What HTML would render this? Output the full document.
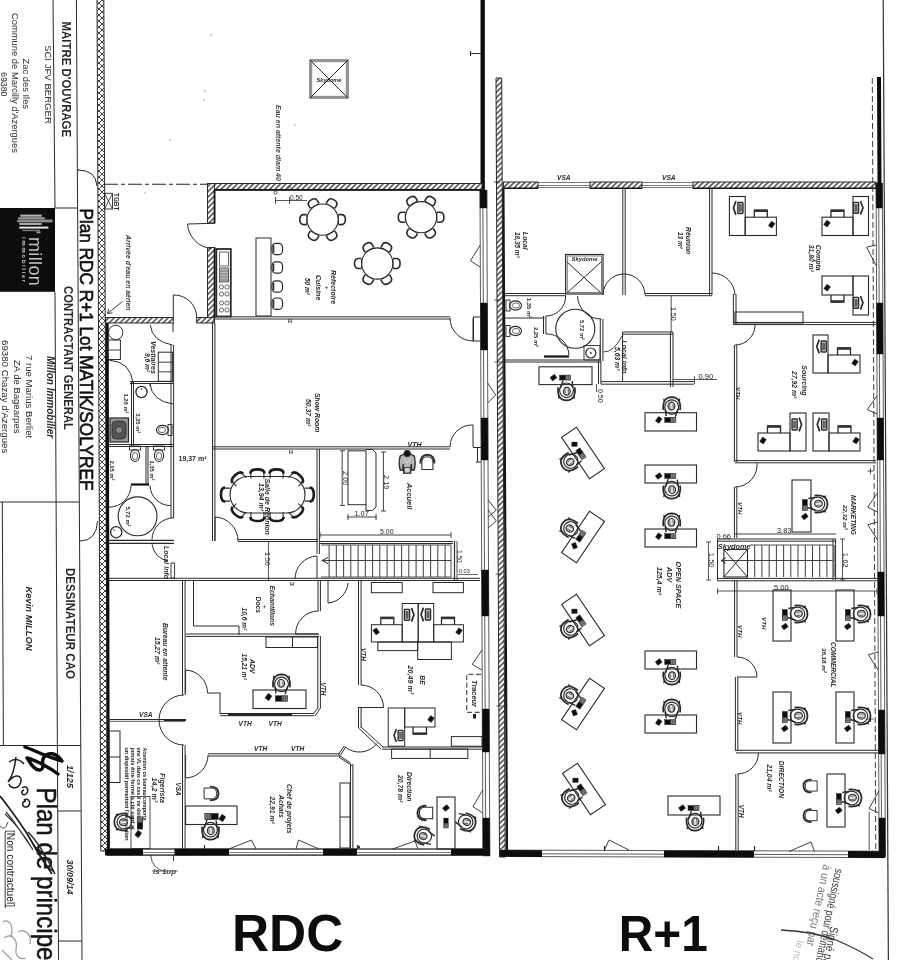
<!DOCTYPE html>
<html lang="fr"><head><meta charset="utf-8"><title>Plan RDC R+1 Lot MATIK/SOLYREF</title>
<style>
html,body{margin:0;padding:0;background:#fff;}
body{width:905px;height:960px;overflow:hidden;}
svg{display:block;font-family:"Liberation Sans",sans-serif;}
</style></head><body>
<svg width="905" height="960" viewBox="0 0 905 960">
<defs>
<pattern id="hat" width="5.4" height="5.4" patternUnits="userSpaceOnUse"><rect width="5.4" height="5.4" fill="#fff"/><path d="M-1 6.4L6.4 -1M-1 1L1 -1M4.4 6.4L6.4 4.4" stroke="#2a2a2a" stroke-width="1.35"/></pattern>
<pattern id="xhat" width="6" height="6" patternUnits="userSpaceOnUse"><rect width="6" height="6" fill="#fff"/><path d="M0 0L6 6M6 0L0 6" stroke="#444" stroke-width="1"/></pattern>
<filter id="soft" x="-2%" y="-2%" width="104%" height="104%"><feGaussianBlur stdDeviation="0.45"/></filter>
</defs>
<rect width="905" height="960" fill="#fefefe"/>
<g filter="url(#soft)">
<line x1="53" y1="0" x2="55" y2="208" stroke="#2a2a2a" stroke-width="1" stroke-linecap="butt"/>
<line x1="55" y1="292" x2="58.5" y2="960" stroke="#2a2a2a" stroke-width="1" stroke-linecap="butt"/>
<line x1="76.4" y1="0" x2="82" y2="960" stroke="#2a2a2a" stroke-width="1" stroke-linecap="butt"/>
<path d="M78 170 Q96 170 97 186" fill="none" stroke="#2a2a2a" stroke-width="1" />
<path d="M80 541 Q96.5 541 97.6 521" fill="none" stroke="#2a2a2a" stroke-width="1" />
<line x1="2.3" y1="502" x2="3.4" y2="745" stroke="#2a2a2a" stroke-width="1" stroke-linecap="butt"/>
<line x1="77.5" y1="170" x2="79" y2="170" stroke="#2a2a2a" stroke-width="1" stroke-linecap="butt"/>
<line x1="0" y1="502" x2="79" y2="502" stroke="#2a2a2a" stroke-width="1" stroke-linecap="butt"/>
<line x1="55" y1="208" x2="78" y2="208" stroke="#2a2a2a" stroke-width="1" stroke-linecap="butt"/>
<line x1="0" y1="745.5" x2="81" y2="745.5" stroke="#2a2a2a" stroke-width="1" stroke-linecap="butt"/>
<line x1="58" y1="811" x2="81" y2="811" stroke="#2a2a2a" stroke-width="1" stroke-linecap="butt"/>
<line x1="58" y1="941" x2="82" y2="941" stroke="#2a2a2a" stroke-width="1" stroke-linecap="butt"/>
<rect x="-1" y="208" width="56" height="83.8" fill="#0a0a0a" stroke="#2a2a2a" stroke-width="0" rx="0" />
<rect x="20.3" y="214.6" width="21.4" height="2.1" fill="#b5b5b5" stroke="none" stroke-width="0" rx="0" />
<rect x="18.2" y="217.2" width="26.6" height="2.1" fill="#9a9a9a" stroke="none" stroke-width="0" rx="0" />
<rect x="17.2" y="219.5" width="35.4" height="2.9" fill="#8c8c8c" stroke="none" stroke-width="0" rx="0" />
<rect x="19.3" y="222.9" width="22.4" height="2.1" fill="#a8a8a8" stroke="none" stroke-width="0" rx="0" />
<rect x="19.3" y="226.6" width="29.1" height="2.0" fill="#e6e6e6" stroke="none" stroke-width="0" rx="0" />
<rect x="22.4" y="229.7" width="17.6" height="1.5" fill="#777" stroke="none" stroke-width="0" rx="0" />
<rect x="36.5" y="231.4" width="4.1" height="1.9" fill="#999" stroke="none" stroke-width="0" rx="0" />
<text transform="translate(28.7 237) rotate(90)" font-size="18" font-weight="normal" font-style="normal" text-anchor="start" fill="#c4c4c4" letter-spacing="0.35" >millon</text>
<text transform="translate(22.3 237) rotate(90)" font-size="6.2" font-weight="bold" font-style="normal" text-anchor="start" fill="#c9c9c9" letter-spacing="1.55" >immobilier</text>
<text transform="translate(61.6 21.6) rotate(90)" font-size="12.3" font-weight="bold" font-style="normal" text-anchor="start" fill="#2a2a2a" textLength="115.5" lengthAdjust="spacingAndGlyphs">MAITRE D'OUVRAGE</text>
<text transform="translate(45.4 45) rotate(90)" font-size="9.6" font-weight="normal" font-style="normal" text-anchor="start" fill="#2a2a2a" >SCI JFV BERGER</text>
<text transform="translate(23.3 58.5) rotate(90)" font-size="9.4" font-weight="normal" font-style="normal" text-anchor="start" fill="#2a2a2a" >Zac des Iles</text>
<text transform="translate(11.8 13) rotate(90)" font-size="9.4" font-weight="normal" font-style="normal" text-anchor="start" fill="#2a2a2a" >Commune de Marcilly d'Azergues</text>
<text transform="translate(1.2 72) rotate(90)" font-size="8.8" font-weight="normal" font-style="normal" text-anchor="start" fill="#2a2a2a" >69380</text>
<text transform="translate(80.2 208.4) rotate(90)" font-size="18.2" font-weight="normal" font-style="normal" text-anchor="start" fill="#111" stroke="#111" stroke-width="0.6" textLength="282" lengthAdjust="spacingAndGlyphs">Plan RDC R+1 Lot MATIK/SOLYREF</text>
<text transform="translate(64.2 286) rotate(90)" font-size="12.3" font-weight="bold" font-style="normal" text-anchor="start" fill="#2a2a2a" textLength="144" lengthAdjust="spacingAndGlyphs">CONTRACTANT GENERAL</text>
<text transform="translate(47.2 356) rotate(90)" font-size="10" font-weight="bold" font-style="italic" text-anchor="start" fill="#2a2a2a" >Millon Immobilier</text>
<text transform="translate(25.5 355) rotate(90)" font-size="9.6" font-weight="normal" font-style="normal" text-anchor="start" fill="#2a2a2a" >7 rue Marius Berliet</text>
<text transform="translate(14 360) rotate(90)" font-size="9.5" font-weight="normal" font-style="normal" text-anchor="start" fill="#2a2a2a" >ZA de Bagearpes</text>
<text transform="translate(2.2 340) rotate(90)" font-size="9.7" font-weight="normal" font-style="normal" text-anchor="start" fill="#2a2a2a" >69380 Chazay d'Azergues</text>
<text transform="translate(65.5 568) rotate(90)" font-size="12.3" font-weight="bold" font-style="normal" text-anchor="start" fill="#2a2a2a" textLength="111" lengthAdjust="spacingAndGlyphs">DESSINATEUR CAO</text>
<text transform="translate(25.6 586.5) rotate(90)" font-size="9.4" font-weight="bold" font-style="italic" text-anchor="start" fill="#2a2a2a" >Kevin MILLON</text>
<text transform="translate(66.5 765) rotate(90)" font-size="9.2" font-weight="bold" font-style="italic" text-anchor="start" fill="#2a2a2a" >1/125</text>
<text transform="translate(67 859.5) rotate(90)" font-size="9" font-weight="bold" font-style="italic" text-anchor="start" fill="#2a2a2a" >30/09/14</text>
<text transform="translate(36.5 787.5) rotate(90)" font-size="27" font-weight="normal" font-style="normal" text-anchor="start" fill="#151515" stroke="#151515" stroke-width="0.5" textLength="173" lengthAdjust="spacingAndGlyphs">Plan de principe</text>
<text transform="translate(6.5 830) rotate(90)" font-size="10.2" font-weight="normal" font-style="normal" text-anchor="start" fill="#222" >[Non contractuel]</text>
<line x1="5.2" y1="832" x2="5.2" y2="908" stroke="#2a2a2a" stroke-width="0.9" stroke-linecap="butt"/>
<path d="M25 747 C34 750 44 756 62 761 C56 752 48 752 44 757 C40 763 46 768 40 770 C34 771 30 762 27 758 C36 760 50 768 58 774" fill="none" stroke="#0c0c0c" stroke-width="3.4" stroke-linecap="round" stroke-linejoin="round"/>
<path d="M9 762 C14 758 20 759 24 764 M16 757 C15 766 13 776 8 782 C16 772 24 776 20 784 C17 790 10 788 9 784" fill="none" stroke="#1a1a1a" stroke-width="1.5" />
<path d="M22 788 C26 784 30 790 26 794 C22 797 20 791 24 790 M24 800 C29 797 32 804 27 807 C22 808 21 802 26 801" fill="none" stroke="#1a1a1a" stroke-width="1.5" />
<path d="M0 796 C8 806 18 820 26 832 C32 842 40 856 52 874" fill="none" stroke="#1a1a1a" stroke-width="1.7" />
<path d="M6 812 C10 816 16 824 33 850 C25 836 14 822 5 814" fill="none" stroke="#333" stroke-width="1.1" />
<path d="M0 826 C4 830 6 828 8 822" fill="none" stroke="#444" stroke-width="1" />
<path d="M28 832 C36 840 44 852 54 872 C48 868 40 858 34 846 C44 852 50 862 55 874" fill="none" stroke="#222" stroke-width="1.4" />
<path d="M3 922 C9 918 14 926 11 936 M4 938 C12 932 18 940 16 950 C15 956 20 960 26 958 M18 932 C24 928 32 934 30 944 M2 950 L12 960" fill="none" stroke="#999" stroke-width="1.2" />
<path d="M97 -2L103.8 -2L107.64 851L100.84 851Z" fill="url(#xhat)" stroke="#2a2a2a" stroke-width="1" />
<line x1="482.7" y1="-2" x2="482.7" y2="190" stroke="#0e0e0e" stroke-width="4.3" stroke-linecap="butt"/>
<line x1="883.2" y1="-2" x2="888.4" y2="962" stroke="#333" stroke-width="1.2" stroke-linecap="butt"/>
<line x1="470" y1="53.5" x2="481" y2="53.5" stroke="#2a2a2a" stroke-width="1" stroke-linecap="butt"/>
<line x1="470.5" y1="51" x2="470.5" y2="56" stroke="#2a2a2a" stroke-width="1" stroke-linecap="butt"/>
<rect x="310" y="60" width="38" height="38" fill="none" stroke="#2a2a2a" stroke-width="1" rx="0" />
<rect x="311.8" y="61.8" width="34.39999999999998" height="34.400000000000006" fill="none" stroke="#2a2a2a" stroke-width="0.6" rx="0" />
<line x1="310" y1="60" x2="348" y2="98" stroke="#2a2a2a" stroke-width="1" stroke-linecap="butt"/>
<line x1="348" y1="60" x2="310" y2="98" stroke="#2a2a2a" stroke-width="1" stroke-linecap="butt"/>
<text transform="translate(329 81.5) rotate(0)" font-size="5.6" font-weight="bold" font-style="italic" text-anchor="middle" fill="#2a2a2a" >Skydome</text>
<text transform="translate(275.5 105) rotate(90)" font-size="7" font-weight="bold" font-style="italic" text-anchor="start" fill="#444" >Eau en attente diam 40</text>
<line x1="104" y1="184.2" x2="208" y2="184.2" stroke="#2a2a2a" stroke-width="1.1" stroke-linecap="butt" stroke-dasharray="14 3 4 3"/>
<rect x="104.5" y="193.3" width="8.0" height="15.699999999999989" fill="none" stroke="#2a2a2a" stroke-width="0.9" rx="0" />
<line x1="104.5" y1="193.3" x2="112.5" y2="209" stroke="#2a2a2a" stroke-width="0.8" stroke-linecap="butt"/>
<line x1="112.5" y1="193.3" x2="104.5" y2="209" stroke="#2a2a2a" stroke-width="0.8" stroke-linecap="butt"/>
<text transform="translate(113.6 193) rotate(90)" font-size="6.4" font-weight="bold" font-style="normal" text-anchor="start" fill="#2a2a2a" >TGBT</text>
<text transform="translate(125.6 235) rotate(90)" font-size="6.9" font-weight="bold" font-style="italic" text-anchor="start" fill="#3a3a3a" >Arrivée d'eau en aérien</text>
<path d="M122.5 301.5 L107.5 313.5 M107.5 313.5 L112.5 312.8 M107.5 313.5 L108.8 308.8" fill="none" stroke="#2a2a2a" stroke-width="0.9" />
<circle cx="211" cy="35" r="0.7" fill="#999" stroke="none" stroke-width="0"/>
<circle cx="205" cy="91" r="0.7" fill="#999" stroke="none" stroke-width="0"/>
<circle cx="204" cy="100" r="0.7" fill="#999" stroke="none" stroke-width="0"/>
<circle cx="295" cy="125" r="0.7" fill="#999" stroke="none" stroke-width="0"/>
<circle cx="145" cy="193" r="0.7" fill="#999" stroke="none" stroke-width="0"/>
<circle cx="170" cy="140" r="0.7" fill="#999" stroke="none" stroke-width="0"/>
<rect x="207.5" y="183.5" width="274.5" height="6.5" fill="url(#hat)" stroke="#2a2a2a" stroke-width="1" rx="0" />
<line x1="214" y1="189.8" x2="481" y2="189.8" stroke="#151515" stroke-width="1.8" stroke-linecap="butt"/>
<rect x="207.5" y="183.5" width="7.0" height="39.5" fill="url(#hat)" stroke="#2a2a2a" stroke-width="1" rx="0" />
<rect x="207.5" y="247.5" width="7.0" height="72.5" fill="url(#hat)" stroke="#2a2a2a" stroke-width="1" rx="0" />
<line x1="214.6" y1="189" x2="214.6" y2="223.5" stroke="#151515" stroke-width="1.8" stroke-linecap="butt"/>
<line x1="214.6" y1="247.5" x2="214.6" y2="318" stroke="#151515" stroke-width="1.8" stroke-linecap="butt"/>
<rect x="105.5" y="317.5" width="67.80000000000001" height="5.5" fill="url(#hat)" stroke="#2a2a2a" stroke-width="1" rx="0" />
<rect x="196.7" y="317.5" width="17.80000000000001" height="5.5" fill="url(#hat)" stroke="#2a2a2a" stroke-width="1" rx="0" />
<line x1="107.2" y1="323" x2="108.4" y2="853" stroke="#111" stroke-width="3" stroke-linecap="butt"/>
<line x1="480.0" y1="190" x2="483.0" y2="856" stroke="#333" stroke-width="0.8" stroke-linecap="butt"/>
<line x1="482.79999999999995" y1="190" x2="485.8" y2="856" stroke="#333" stroke-width="0.8" stroke-linecap="butt"/>
<line x1="486.79999999999995" y1="190" x2="489.8" y2="856" stroke="#333" stroke-width="0.8" stroke-linecap="butt"/>
<path d="M480.0 190L486.8 190L486.88 208L480.08 208Z" fill="#0e0e0e" stroke="#0e0e0e" stroke-width="0.4" />
<path d="M480.51 303L487.31 303L487.52 350L480.72 350Z" fill="#0e0e0e" stroke="#0e0e0e" stroke-width="0.4" />
<path d="M481.03 418L487.83 418L488.01 460L481.21 460Z" fill="#0e0e0e" stroke="#0e0e0e" stroke-width="0.4" />
<path d="M481.71 570L488.51 570L488.72 616L481.92 616Z" fill="#0e0e0e" stroke="#0e0e0e" stroke-width="0.4" />
<path d="M482.34 709L489.14 709L489.33 752L482.53 752Z" fill="#0e0e0e" stroke="#0e0e0e" stroke-width="0.4" />
<path d="M482.83 818L489.63 818L489.8 856L483.0 856Z" fill="#0e0e0e" stroke="#0e0e0e" stroke-width="0.4" />
<path d="M480.25 245 L470.45 260.8 L480.25 267" fill="none" stroke="#2a2a2a" stroke-width="0.9" />
<path d="M482.07 650 L472.27 664.4 L482.07 670" fill="none" stroke="#2a2a2a" stroke-width="0.9" />
<path d="M482.7 790 L472.9 806.6 L482.7 813" fill="none" stroke="#2a2a2a" stroke-width="0.9" />
<path d="M487.67 383 L495.67 395.0 L487.67 403" fill="none" stroke="#2a2a2a" stroke-width="0.9" />
<path d="M488.19 500 L496.19 510.2 L488.19 517" fill="none" stroke="#2a2a2a" stroke-width="0.9" />
<path d="M488.24 510 L496.24 520.8 L488.24 528" fill="none" stroke="#2a2a2a" stroke-width="0.9" />
<line x1="107" y1="849.5" x2="486" y2="849.5" stroke="#444" stroke-width="0.7" stroke-linecap="butt"/>
<line x1="107" y1="852.5" x2="486" y2="852.5" stroke="#444" stroke-width="0.7" stroke-linecap="butt"/>
<line x1="107" y1="854.5" x2="486" y2="854.5" stroke="#444" stroke-width="0.7" stroke-linecap="butt"/>
<rect x="105" y="848.7" width="38" height="6.7999999999999545" fill="#0e0e0e" stroke="#2a2a2a" stroke-width="0" rx="0" />
<rect x="174.5" y="848.7" width="54.5" height="6.7999999999999545" fill="#0e0e0e" stroke="#2a2a2a" stroke-width="0" rx="0" />
<rect x="323" y="848.7" width="34" height="6.7999999999999545" fill="#0e0e0e" stroke="#2a2a2a" stroke-width="0" rx="0" />
<rect x="451" y="848.7" width="38.5" height="6.7999999999999545" fill="#0e0e0e" stroke="#2a2a2a" stroke-width="0" rx="0" />
<line x1="107" y1="848.7" x2="487" y2="848.7" stroke="#2a2a2a" stroke-width="0.8" stroke-linecap="butt"/>
<line x1="107" y1="855.5" x2="487" y2="855.5" stroke="#2a2a2a" stroke-width="0.8" stroke-linecap="butt"/>
<path d="M229 849 L251.5 840 L256 849" fill="none" stroke="#2a2a2a" stroke-width="0.9" />
<path d="M296 849 L298.5 840 L319 849" fill="none" stroke="#2a2a2a" stroke-width="0.9" />
<path d="M392.5 849 L415 841 L418 849" fill="none" stroke="#2a2a2a" stroke-width="0.9" />
<line x1="204.5" y1="845" x2="204.5" y2="849" stroke="#2a2a2a" stroke-width="1.2" stroke-linecap="butt"/>
<line x1="357.5" y1="845" x2="357.5" y2="849" stroke="#2a2a2a" stroke-width="1.2" stroke-linecap="butt"/>
<text transform="translate(153 873.5) rotate(0)" font-size="8" font-weight="bold" font-style="italic" text-anchor="start" fill="#444" >ls 1up</text>
<path d="M150.5 855 Q152 869 166 872" fill="none" stroke="#2a2a2a" stroke-width="0.8" />
<line x1="152" y1="871" x2="178" y2="871" stroke="#555" stroke-width="0.8" stroke-linecap="butt"/>
<line x1="173.5" y1="855" x2="173.5" y2="861" stroke="#2a2a2a" stroke-width="0.9" stroke-linecap="butt"/>
<path d="M214 223.3L187.5 224A26.5 26.5 0 0 0 211 248.5" fill="none" stroke="#2a2a2a" stroke-width="1" />
<path d="M173.3 317.5L173.3 295A22.5 22.5 0 0 1 196.7 317.5" fill="none" stroke="#2a2a2a" stroke-width="1" />
<rect x="216.3" y="249" width="14.5" height="67.5" fill="none" stroke="#2a2a2a" stroke-width="1.8" rx="0" />
<rect x="219.5" y="252" width="9.0" height="14" fill="none" stroke="#2a2a2a" stroke-width="0.7" rx="0" />
<rect x="219.5" y="268" width="9.0" height="14" fill="#bbb" stroke="#2a2a2a" stroke-width="0.7" rx="0" />
<line x1="220" y1="271" x2="228" y2="271" stroke="#2a2a2a" stroke-width="0.5" stroke-linecap="butt"/>
<line x1="220" y1="274" x2="228" y2="274" stroke="#2a2a2a" stroke-width="0.5" stroke-linecap="butt"/>
<line x1="220" y1="277" x2="228" y2="277" stroke="#2a2a2a" stroke-width="0.5" stroke-linecap="butt"/>
<line x1="220" y1="280" x2="228" y2="280" stroke="#2a2a2a" stroke-width="0.5" stroke-linecap="butt"/>
<circle cx="221.5" cy="287" r="2.1" fill="none" stroke="#2a2a2a" stroke-width="0.7"/>
<circle cx="227" cy="287" r="2.1" fill="none" stroke="#2a2a2a" stroke-width="0.7"/>
<circle cx="221.5" cy="294" r="2.1" fill="none" stroke="#2a2a2a" stroke-width="0.7"/>
<circle cx="227" cy="294" r="2.1" fill="none" stroke="#2a2a2a" stroke-width="0.7"/>
<circle cx="221.5" cy="303" r="2.1" fill="none" stroke="#2a2a2a" stroke-width="0.7"/>
<circle cx="227" cy="303" r="2.1" fill="none" stroke="#2a2a2a" stroke-width="0.7"/>
<circle cx="221.5" cy="310" r="2.1" fill="none" stroke="#2a2a2a" stroke-width="0.7"/>
<circle cx="227" cy="310" r="2.1" fill="none" stroke="#2a2a2a" stroke-width="0.7"/>
<rect x="256" y="238" width="15" height="78" fill="none" stroke="#2a2a2a" stroke-width="1" rx="0" />
<rect x="272" y="243.3" width="10.5" height="11.4" fill="none" stroke="#2a2a2a" stroke-width="1.2" rx="4" />
<line x1="273.6" y1="245.3" x2="273.6" y2="252.70000000000002" stroke="#2a2a2a" stroke-width="1.4" stroke-linecap="butt"/>
<rect x="272" y="261.8" width="10.5" height="11.4" fill="none" stroke="#2a2a2a" stroke-width="1.2" rx="4" />
<line x1="273.6" y1="263.8" x2="273.6" y2="271.2" stroke="#2a2a2a" stroke-width="1.4" stroke-linecap="butt"/>
<rect x="272" y="280.8" width="10.5" height="11.4" fill="none" stroke="#2a2a2a" stroke-width="1.2" rx="4" />
<line x1="273.6" y1="282.8" x2="273.6" y2="290.2" stroke="#2a2a2a" stroke-width="1.4" stroke-linecap="butt"/>
<rect x="272" y="298" width="10.5" height="11.4" fill="none" stroke="#2a2a2a" stroke-width="1.2" rx="4" />
<line x1="273.6" y1="300" x2="273.6" y2="307.4" stroke="#2a2a2a" stroke-width="1.4" stroke-linecap="butt"/>
<circle cx="322.6" cy="219.6" r="15.6" fill="none" stroke="#2a2a2a" stroke-width="1.1"/>
<g transform="translate(341.4 219.6) rotate(-90)">
<path d="M-5 -3 L-5 0 Q-5 4 0 4 Q5 4 5 0 L5 -3" fill="none" stroke="#2a2a2a" stroke-width="1.6" />
<path d="M-4.5 -3 L4.5 -3" fill="none" stroke="#2a2a2a" stroke-width="0.9" />
</g>
<g transform="translate(332.0 235.9) rotate(-30)">
<path d="M-5 -3 L-5 0 Q-5 4 0 4 Q5 4 5 0 L5 -3" fill="none" stroke="#2a2a2a" stroke-width="1.6" />
<path d="M-4.5 -3 L4.5 -3" fill="none" stroke="#2a2a2a" stroke-width="0.9" />
</g>
<g transform="translate(313.2 235.9) rotate(30)">
<path d="M-5 -3 L-5 0 Q-5 4 0 4 Q5 4 5 0 L5 -3" fill="none" stroke="#2a2a2a" stroke-width="1.6" />
<path d="M-4.5 -3 L4.5 -3" fill="none" stroke="#2a2a2a" stroke-width="0.9" />
</g>
<g transform="translate(303.8 219.6) rotate(90)">
<path d="M-5 -3 L-5 0 Q-5 4 0 4 Q5 4 5 0 L5 -3" fill="none" stroke="#2a2a2a" stroke-width="1.6" />
<path d="M-4.5 -3 L4.5 -3" fill="none" stroke="#2a2a2a" stroke-width="0.9" />
</g>
<g transform="translate(313.2 203.3) rotate(150)">
<path d="M-5 -3 L-5 0 Q-5 4 0 4 Q5 4 5 0 L5 -3" fill="none" stroke="#2a2a2a" stroke-width="1.6" />
<path d="M-4.5 -3 L4.5 -3" fill="none" stroke="#2a2a2a" stroke-width="0.9" />
</g>
<g transform="translate(332.0 203.3) rotate(210)">
<path d="M-5 -3 L-5 0 Q-5 4 0 4 Q5 4 5 0 L5 -3" fill="none" stroke="#2a2a2a" stroke-width="1.6" />
<path d="M-4.5 -3 L4.5 -3" fill="none" stroke="#2a2a2a" stroke-width="0.9" />
</g>
<circle cx="421.1" cy="217.2" r="15.6" fill="none" stroke="#2a2a2a" stroke-width="1.1"/>
<g transform="translate(439.9 217.2) rotate(-90)">
<path d="M-5 -3 L-5 0 Q-5 4 0 4 Q5 4 5 0 L5 -3" fill="none" stroke="#2a2a2a" stroke-width="1.6" />
<path d="M-4.5 -3 L4.5 -3" fill="none" stroke="#2a2a2a" stroke-width="0.9" />
</g>
<g transform="translate(430.5 233.5) rotate(-30)">
<path d="M-5 -3 L-5 0 Q-5 4 0 4 Q5 4 5 0 L5 -3" fill="none" stroke="#2a2a2a" stroke-width="1.6" />
<path d="M-4.5 -3 L4.5 -3" fill="none" stroke="#2a2a2a" stroke-width="0.9" />
</g>
<g transform="translate(411.7 233.5) rotate(30)">
<path d="M-5 -3 L-5 0 Q-5 4 0 4 Q5 4 5 0 L5 -3" fill="none" stroke="#2a2a2a" stroke-width="1.6" />
<path d="M-4.5 -3 L4.5 -3" fill="none" stroke="#2a2a2a" stroke-width="0.9" />
</g>
<g transform="translate(402.3 217.2) rotate(90)">
<path d="M-5 -3 L-5 0 Q-5 4 0 4 Q5 4 5 0 L5 -3" fill="none" stroke="#2a2a2a" stroke-width="1.6" />
<path d="M-4.5 -3 L4.5 -3" fill="none" stroke="#2a2a2a" stroke-width="0.9" />
</g>
<g transform="translate(411.7 200.9) rotate(150)">
<path d="M-5 -3 L-5 0 Q-5 4 0 4 Q5 4 5 0 L5 -3" fill="none" stroke="#2a2a2a" stroke-width="1.6" />
<path d="M-4.5 -3 L4.5 -3" fill="none" stroke="#2a2a2a" stroke-width="0.9" />
</g>
<g transform="translate(430.5 200.9) rotate(210)">
<path d="M-5 -3 L-5 0 Q-5 4 0 4 Q5 4 5 0 L5 -3" fill="none" stroke="#2a2a2a" stroke-width="1.6" />
<path d="M-4.5 -3 L4.5 -3" fill="none" stroke="#2a2a2a" stroke-width="0.9" />
</g>
<circle cx="377.3" cy="263.5" r="15.6" fill="none" stroke="#2a2a2a" stroke-width="1.1"/>
<g transform="translate(396.1 263.5) rotate(-90)">
<path d="M-5 -3 L-5 0 Q-5 4 0 4 Q5 4 5 0 L5 -3" fill="none" stroke="#2a2a2a" stroke-width="1.6" />
<path d="M-4.5 -3 L4.5 -3" fill="none" stroke="#2a2a2a" stroke-width="0.9" />
</g>
<g transform="translate(386.7 279.8) rotate(-30)">
<path d="M-5 -3 L-5 0 Q-5 4 0 4 Q5 4 5 0 L5 -3" fill="none" stroke="#2a2a2a" stroke-width="1.6" />
<path d="M-4.5 -3 L4.5 -3" fill="none" stroke="#2a2a2a" stroke-width="0.9" />
</g>
<g transform="translate(367.9 279.8) rotate(30)">
<path d="M-5 -3 L-5 0 Q-5 4 0 4 Q5 4 5 0 L5 -3" fill="none" stroke="#2a2a2a" stroke-width="1.6" />
<path d="M-4.5 -3 L4.5 -3" fill="none" stroke="#2a2a2a" stroke-width="0.9" />
</g>
<g transform="translate(358.5 263.5) rotate(90)">
<path d="M-5 -3 L-5 0 Q-5 4 0 4 Q5 4 5 0 L5 -3" fill="none" stroke="#2a2a2a" stroke-width="1.6" />
<path d="M-4.5 -3 L4.5 -3" fill="none" stroke="#2a2a2a" stroke-width="0.9" />
</g>
<g transform="translate(367.9 247.2) rotate(150)">
<path d="M-5 -3 L-5 0 Q-5 4 0 4 Q5 4 5 0 L5 -3" fill="none" stroke="#2a2a2a" stroke-width="1.6" />
<path d="M-4.5 -3 L4.5 -3" fill="none" stroke="#2a2a2a" stroke-width="0.9" />
</g>
<g transform="translate(386.7 247.2) rotate(210)">
<path d="M-5 -3 L-5 0 Q-5 4 0 4 Q5 4 5 0 L5 -3" fill="none" stroke="#2a2a2a" stroke-width="1.6" />
<path d="M-4.5 -3 L4.5 -3" fill="none" stroke="#2a2a2a" stroke-width="0.9" />
</g>
<line x1="275" y1="200.5" x2="307" y2="200.5" stroke="#2a2a2a" stroke-width="0.8" stroke-linecap="butt"/>
<line x1="275.5" y1="197" x2="275.5" y2="204" stroke="#2a2a2a" stroke-width="0.8" stroke-linecap="butt"/>
<line x1="289.5" y1="197" x2="289.5" y2="204" stroke="#2a2a2a" stroke-width="0.8" stroke-linecap="butt"/>
<text transform="translate(290 199.5) rotate(0)" font-size="6.5" font-weight="normal" font-style="normal" text-anchor="start" fill="#262626" >0.50</text>
<circle cx="275.5" cy="192.5" r="1.6" fill="none" stroke="#2a2a2a" stroke-width="0.8"/>
<text transform="translate(288 188.5) rotate(0)" font-size="5" font-weight="normal" font-style="normal" text-anchor="start" fill="#444" >A</text>
<text transform="translate(330.6 270) rotate(90)" font-size="7" font-weight="bold" font-style="italic" text-anchor="start" fill="#2a2a2a" >Réfectoire</text>
<text transform="translate(324.6 286) rotate(90)" font-size="6" font-weight="bold" font-style="normal" text-anchor="start" fill="#2a2a2a" >+</text>
<text transform="translate(316 275) rotate(90)" font-size="7" font-weight="bold" font-style="italic" text-anchor="start" fill="#2a2a2a" >Cuisine</text>
<text transform="translate(305 278) rotate(90)" font-size="6.5" font-weight="bold" font-style="italic" text-anchor="start" fill="#2a2a2a" >50 m²</text>
<line x1="213" y1="316.8" x2="450" y2="316.8" stroke="#2a2a2a" stroke-width="1" stroke-linecap="butt"/>
<line x1="213" y1="319.0" x2="450" y2="319.0" stroke="#2a2a2a" stroke-width="1" stroke-linecap="butt"/>
<path d="M473 318L473 341A23.0 23.0 0 0 1 450 318" fill="none" stroke="#2a2a2a" stroke-width="1" />
<line x1="473" y1="317" x2="481" y2="317" stroke="#2a2a2a" stroke-width="1" stroke-linecap="butt"/>
<line x1="473.5" y1="317" x2="473.5" y2="341" stroke="#2a2a2a" stroke-width="1" stroke-linecap="butt"/>
<line x1="473" y1="341" x2="481" y2="341" stroke="#2a2a2a" stroke-width="1" stroke-linecap="butt"/>
<line x1="212.5" y1="323" x2="212.5" y2="541" stroke="#2a2a2a" stroke-width="1" stroke-linecap="butt"/>
<line x1="214.9" y1="323" x2="214.9" y2="541" stroke="#2a2a2a" stroke-width="1" stroke-linecap="butt"/>
<line x1="213" y1="446.8" x2="450" y2="446.8" stroke="#2a2a2a" stroke-width="1" stroke-linecap="butt"/>
<line x1="213" y1="449.0" x2="450" y2="449.0" stroke="#2a2a2a" stroke-width="1" stroke-linecap="butt"/>
<path d="M473 447L473 425A22.0 22.0 0 0 0 450 447" fill="none" stroke="#2a2a2a" stroke-width="1" />
<line x1="473" y1="447.5" x2="481" y2="447.5" stroke="#2a2a2a" stroke-width="1" stroke-linecap="butt"/>
<line x1="477.5" y1="447" x2="477.5" y2="462" stroke="#2a2a2a" stroke-width="1" stroke-linecap="butt"/>
<line x1="476" y1="462" x2="481" y2="462" stroke="#2a2a2a" stroke-width="1" stroke-linecap="butt"/>
<text transform="translate(290 322.5) rotate(0)" font-size="5.5" font-weight="bold" font-style="normal" text-anchor="middle" fill="#2a2a2a" >H</text>
<text transform="translate(291 453.5) rotate(0)" font-size="5.5" font-weight="bold" font-style="normal" text-anchor="middle" fill="#2a2a2a" >H</text>
<text transform="translate(292 585.5) rotate(0)" font-size="5.5" font-weight="bold" font-style="normal" text-anchor="middle" fill="#2a2a2a" >H</text>
<text transform="translate(314.5 393) rotate(90)" font-size="6.8" font-weight="bold" font-style="italic" text-anchor="start" fill="#2a2a2a" >Show Room</text>
<text transform="translate(305.5 399) rotate(90)" font-size="6.8" font-weight="bold" font-style="italic" text-anchor="start" fill="#2a2a2a" >50,37 m²</text>
<line x1="173" y1="323" x2="173" y2="332" stroke="#2a2a2a" stroke-width="1" stroke-linecap="butt"/>
<path d="M150.3 325 Q152 341.5 172.6 345" fill="none" stroke="#2a2a2a" stroke-width="1" />
<line x1="171" y1="345" x2="171" y2="518" stroke="#2a2a2a" stroke-width="1" stroke-linecap="butt"/>
<line x1="173.6" y1="345" x2="173.6" y2="518" stroke="#2a2a2a" stroke-width="1" stroke-linecap="butt"/>
<circle cx="115.7" cy="332.5" r="7.2" fill="none" stroke="#2a2a2a" stroke-width="1"/>
<rect x="107.8" y="340" width="12.600000000000009" height="19.5" fill="none" stroke="#2a2a2a" stroke-width="1" rx="0" />
<line x1="107.8" y1="350" x2="120.4" y2="350" stroke="#2a2a2a" stroke-width="0.9" stroke-linecap="butt"/>
<rect x="158.3" y="352.2" width="14.099999999999994" height="29.100000000000023" fill="none" stroke="#2a2a2a" stroke-width="1" rx="0" />
<line x1="158.3" y1="362.2" x2="172.4" y2="362.2" stroke="#2a2a2a" stroke-width="0.9" stroke-linecap="butt"/>
<line x1="158.3" y1="371.8" x2="172.4" y2="371.8" stroke="#2a2a2a" stroke-width="0.9" stroke-linecap="butt"/>
<text transform="translate(150.6 341) rotate(90)" font-size="7" font-weight="bold" font-style="italic" text-anchor="start" fill="#2a2a2a" >Vestiaires</text>
<text transform="translate(144.6 353) rotate(90)" font-size="6.6" font-weight="bold" font-style="italic" text-anchor="start" fill="#2a2a2a" >9,6 m²</text>
<path d="M109 360 Q131 362 133 383" fill="none" stroke="#2a2a2a" stroke-width="1" />
<line x1="130" y1="381.5" x2="173" y2="381.5" stroke="#2a2a2a" stroke-width="1" stroke-linecap="butt"/>
<line x1="130" y1="383.5" x2="173" y2="383.5" stroke="#2a2a2a" stroke-width="1" stroke-linecap="butt"/>
<line x1="131.5" y1="382" x2="131.5" y2="446" stroke="#2a2a2a" stroke-width="1" stroke-linecap="butt"/>
<line x1="133.5" y1="382" x2="133.5" y2="446" stroke="#2a2a2a" stroke-width="1" stroke-linecap="butt"/>
<circle cx="141.5" cy="392" r="5.6" fill="none" stroke="#2a2a2a" stroke-width="1.3"/>
<circle cx="141.5" cy="389" r="0.8" fill="#333" stroke="#2a2a2a" stroke-width="0"/>
<path d="M150 384 Q152 401 173 404" fill="none" stroke="#2a2a2a" stroke-width="1" />
<line x1="150" y1="383" x2="150" y2="386" stroke="#2a2a2a" stroke-width="1" stroke-linecap="butt"/>
<text transform="translate(124.2 393.5) rotate(90)" font-size="5.8" font-weight="bold" font-style="normal" text-anchor="start" fill="#2a2a2a" >1,20 m²</text>
<text transform="translate(135.8 413.2) rotate(90)" font-size="5.8" font-weight="bold" font-style="normal" text-anchor="start" fill="#2a2a2a" >3,35 m²</text>
<rect x="110" y="418" width="18.5" height="24" fill="#9a9a9a" stroke="#2a2a2a" stroke-width="1.2" rx="0" />
<rect x="112" y="421" width="14" height="18" fill="#555" stroke="#2a2a2a" stroke-width="0.8" rx="4" />
<circle cx="119" cy="430" r="3.5" fill="#888" stroke="#2a2a2a" stroke-width="0.8"/>
<g transform="translate(164 430) rotate(180)">
<rect x="-8" y="-5.5" width="4" height="11" fill="none" stroke="#2a2a2a" stroke-width="0.9" rx="0" />
<ellipse cx="1.5" cy="0" rx="6" ry="4.6" fill="none" stroke="#2a2a2a" stroke-width="1.1"/>
<ellipse cx="2" cy="0" rx="3.6" ry="2.6" fill="none" stroke="#2a2a2a" stroke-width="0.7"/>
</g>
<line x1="108" y1="444.5" x2="173" y2="444.5" stroke="#2a2a2a" stroke-width="1" stroke-linecap="butt"/>
<line x1="108" y1="446.5" x2="173" y2="446.5" stroke="#2a2a2a" stroke-width="1" stroke-linecap="butt"/>
<g transform="translate(135 454) rotate(90)">
<rect x="-8" y="-5.5" width="4" height="11" fill="none" stroke="#2a2a2a" stroke-width="0.9" rx="0" />
<ellipse cx="1.5" cy="0" rx="6" ry="4.6" fill="none" stroke="#2a2a2a" stroke-width="1.1"/>
<ellipse cx="2" cy="0" rx="3.6" ry="2.6" fill="none" stroke="#2a2a2a" stroke-width="0.7"/>
</g>
<g transform="translate(159 454) rotate(90)">
<rect x="-8" y="-5.5" width="4" height="11" fill="none" stroke="#2a2a2a" stroke-width="0.9" rx="0" />
<ellipse cx="1.5" cy="0" rx="6" ry="4.6" fill="none" stroke="#2a2a2a" stroke-width="1.1"/>
<ellipse cx="2" cy="0" rx="3.6" ry="2.6" fill="none" stroke="#2a2a2a" stroke-width="0.7"/>
</g>
<line x1="146" y1="446" x2="146" y2="485" stroke="#2a2a2a" stroke-width="1" stroke-linecap="butt"/>
<line x1="148" y1="446" x2="148" y2="485" stroke="#2a2a2a" stroke-width="1" stroke-linecap="butt"/>
<line x1="131" y1="484.5" x2="149" y2="484.5" stroke="#111" stroke-width="2.2" stroke-linecap="butt"/>
<text transform="translate(109.6 460.4) rotate(90)" font-size="5.8" font-weight="bold" font-style="normal" text-anchor="start" fill="#2a2a2a" >2,15 m²</text>
<text transform="translate(150 460.4) rotate(90)" font-size="5.8" font-weight="bold" font-style="normal" text-anchor="start" fill="#2a2a2a" >1,35 m²</text>
<path d="M131 485.3 A22 22 0 0 1 109 507.2" fill="none" stroke="#2a2a2a" stroke-width="1" />
<path d="M149.9 485.3 A21 21 0 0 0 171 505.7" fill="none" stroke="#2a2a2a" stroke-width="1" />
<path d="M174 517.8 A22 22 0 0 0 152 539.7" fill="none" stroke="#2a2a2a" stroke-width="1" />
<circle cx="137.6" cy="516.3" r="19.4" fill="none" stroke="#2a2a2a" stroke-width="1.1"/>
<text transform="translate(125.8 506.5) rotate(90)" font-size="5.8" font-weight="bold" font-style="normal" text-anchor="start" fill="#2a2a2a" >5,72 m²</text>
<circle cx="116.2" cy="532.2" r="5.6" fill="none" stroke="#2a2a2a" stroke-width="1.3"/>
<circle cx="114" cy="530" r="0.8" fill="#333" stroke="#2a2a2a" stroke-width="0"/>
<line x1="108" y1="540.4" x2="174" y2="540.4" stroke="#2a2a2a" stroke-width="1.2" stroke-linecap="butt"/>
<line x1="108" y1="543.4" x2="174" y2="543.4" stroke="#2a2a2a" stroke-width="1.2" stroke-linecap="butt"/>
<path d="M152.1 544.3 A19 19 0 0 0 168 561" fill="none" stroke="#2a2a2a" stroke-width="1" />
<rect x="171" y="563" width="3.5999999999999943" height="15" fill="none" stroke="#2a2a2a" stroke-width="0.9" rx="0" />
<text transform="translate(163.8 546) rotate(90)" font-size="7" font-weight="bold" font-style="italic" text-anchor="start" fill="#2a2a2a" >Local info</text>
<text transform="translate(178.5 461) rotate(0)" font-size="7" font-weight="bold" font-style="normal" text-anchor="start" fill="#2a2a2a" >19,37 m²</text>
<rect x="230" y="476.5" width="75" height="36.5" fill="none" stroke="#2a2a2a" stroke-width="1.2" rx="18.2" />
<g transform="translate(257.4 474) rotate(0)">
<path d="M-6.5 4.5 L-6.5 -1.5 M6.5 4.5 L6.5 -1.5" fill="none" stroke="#2a2a2a" stroke-width="1.1" />
<path d="M-7 -0.5 Q-7 -4.6 0 -4.6 Q7 -4.6 7 -0.5" fill="none" stroke="#1a1a1a" stroke-width="2.6" />
</g>
<g transform="translate(257.4 516.4) rotate(180)">
<path d="M-6.5 4.5 L-6.5 -1.5 M6.5 4.5 L6.5 -1.5" fill="none" stroke="#2a2a2a" stroke-width="1.1" />
<path d="M-7 -0.5 Q-7 -4.6 0 -4.6 Q7 -4.6 7 -0.5" fill="none" stroke="#1a1a1a" stroke-width="2.6" />
</g>
<g transform="translate(276.6 474) rotate(0)">
<path d="M-6.5 4.5 L-6.5 -1.5 M6.5 4.5 L6.5 -1.5" fill="none" stroke="#2a2a2a" stroke-width="1.1" />
<path d="M-7 -0.5 Q-7 -4.6 0 -4.6 Q7 -4.6 7 -0.5" fill="none" stroke="#1a1a1a" stroke-width="2.6" />
</g>
<g transform="translate(276.6 516.4) rotate(180)">
<path d="M-6.5 4.5 L-6.5 -1.5 M6.5 4.5 L6.5 -1.5" fill="none" stroke="#2a2a2a" stroke-width="1.1" />
<path d="M-7 -0.5 Q-7 -4.6 0 -4.6 Q7 -4.6 7 -0.5" fill="none" stroke="#1a1a1a" stroke-width="2.6" />
</g>
<g transform="translate(238.2 478.6) rotate(-42)">
<path d="M-6.5 4.5 L-6.5 -1.5 M6.5 4.5 L6.5 -1.5" fill="none" stroke="#2a2a2a" stroke-width="1.1" />
<path d="M-7 -0.5 Q-7 -4.6 0 -4.6 Q7 -4.6 7 -0.5" fill="none" stroke="#1a1a1a" stroke-width="2.6" />
</g>
<g transform="translate(296.6 478.6) rotate(42)">
<path d="M-6.5 4.5 L-6.5 -1.5 M6.5 4.5 L6.5 -1.5" fill="none" stroke="#2a2a2a" stroke-width="1.1" />
<path d="M-7 -0.5 Q-7 -4.6 0 -4.6 Q7 -4.6 7 -0.5" fill="none" stroke="#1a1a1a" stroke-width="2.6" />
</g>
<g transform="translate(238.2 511.2) rotate(-138)">
<path d="M-6.5 4.5 L-6.5 -1.5 M6.5 4.5 L6.5 -1.5" fill="none" stroke="#2a2a2a" stroke-width="1.1" />
<path d="M-7 -0.5 Q-7 -4.6 0 -4.6 Q7 -4.6 7 -0.5" fill="none" stroke="#1a1a1a" stroke-width="2.6" />
</g>
<g transform="translate(296.6 511.2) rotate(138)">
<path d="M-6.5 4.5 L-6.5 -1.5 M6.5 4.5 L6.5 -1.5" fill="none" stroke="#2a2a2a" stroke-width="1.1" />
<path d="M-7 -0.5 Q-7 -4.6 0 -4.6 Q7 -4.6 7 -0.5" fill="none" stroke="#1a1a1a" stroke-width="2.6" />
</g>
<g transform="translate(225.6 494.6) rotate(-90)">
<path d="M-6.5 4.5 L-6.5 -1.5 M6.5 4.5 L6.5 -1.5" fill="none" stroke="#2a2a2a" stroke-width="1.1" />
<path d="M-7 -0.5 Q-7 -4.6 0 -4.6 Q7 -4.6 7 -0.5" fill="none" stroke="#1a1a1a" stroke-width="2.6" />
</g>
<g transform="translate(309.2 494.6) rotate(90)">
<path d="M-6.5 4.5 L-6.5 -1.5 M6.5 4.5 L6.5 -1.5" fill="none" stroke="#2a2a2a" stroke-width="1.1" />
<path d="M-7 -0.5 Q-7 -4.6 0 -4.6 Q7 -4.6 7 -0.5" fill="none" stroke="#1a1a1a" stroke-width="2.6" />
</g>
<text transform="translate(265.2 478.5) rotate(90)" font-size="7" font-weight="bold" font-style="italic" text-anchor="start" fill="#2a2a2a" >Salle de Réunion</text>
<text transform="translate(258.6 483) rotate(90)" font-size="7" font-weight="bold" font-style="italic" text-anchor="start" fill="#2a2a2a" >13,94 m²</text>
<path d="M215 541L215 517A24.0 24.0 0 0 1 238 541" fill="none" stroke="#2a2a2a" stroke-width="1" />
<line x1="238" y1="539.5" x2="318" y2="539.5" stroke="#2a2a2a" stroke-width="1" stroke-linecap="butt"/>
<line x1="238" y1="541.5" x2="318" y2="541.5" stroke="#2a2a2a" stroke-width="1" stroke-linecap="butt"/>
<line x1="317" y1="449" x2="317" y2="554" stroke="#2a2a2a" stroke-width="1" stroke-linecap="butt"/>
<line x1="319.4" y1="449" x2="319.4" y2="554" stroke="#2a2a2a" stroke-width="1" stroke-linecap="butt"/>
<line x1="268.5" y1="541" x2="268.5" y2="580" stroke="#2a2a2a" stroke-width="0.8" stroke-linecap="butt"/>
<text transform="translate(265 552) rotate(90)" font-size="7" font-weight="normal" font-style="normal" text-anchor="start" fill="#262626" >1.50</text>
<rect x="348" y="450.8" width="18" height="53.89999999999998" fill="none" stroke="#2a2a2a" stroke-width="1" rx="0" />
<path d="M366 449.5 L372.5 449.5 L376 453 L376 507 L372.5 510.4 L366 510.4 L366 504.7" fill="none" stroke="#2a2a2a" stroke-width="1" />
<line x1="342.2" y1="450.8" x2="342.2" y2="505.4" stroke="#2a2a2a" stroke-width="0.9" stroke-linecap="butt"/>
<path d="M340 450.8 L345 450.8 M340 505.4 L345 505.4" fill="none" stroke="#2a2a2a" stroke-width="0.9" />
<text transform="translate(343 471) rotate(90)" font-size="7.4" font-weight="normal" font-style="normal" text-anchor="start" fill="#262626" >2.00</text>
<line x1="383.4" y1="452" x2="383.4" y2="511" stroke="#2a2a2a" stroke-width="0.9" stroke-linecap="butt"/>
<path d="M381 452 L386 452 M381 511 L386 511" fill="none" stroke="#2a2a2a" stroke-width="0.9" />
<text transform="translate(384.2 475) rotate(90)" font-size="7.4" font-weight="normal" font-style="normal" text-anchor="start" fill="#262626" >2.19</text>
<line x1="347" y1="517" x2="377" y2="517" stroke="#2a2a2a" stroke-width="0.9" stroke-linecap="butt"/>
<path d="M348 514 L348 520 M376 514 L376 520" fill="none" stroke="#2a2a2a" stroke-width="0.9" />
<text transform="translate(354.4 516) rotate(0)" font-size="7.4" font-weight="normal" font-style="normal" text-anchor="start" fill="#262626" >1.07</text>
<text transform="translate(407.6 447) rotate(0)" font-size="7" font-weight="bold" font-style="italic" text-anchor="start" fill="#2a2a2a" >VTH</text>
<g transform="translate(407.2 461)">
<path d="M-7 -5 Q-9 2 -7 9 L-4.5 9 L-4 3 L-3.5 12 L3.5 12 L4 3 L4.5 9 L7 9 Q9 2 7 -5 Q0 -10 -7 -5 Z" fill="#b5b5b5" stroke="#2a2a2a" stroke-width="1.3" />
<circle cx="0" cy="-7.5" r="3.2" fill="#161616" stroke="#2a2a2a" stroke-width="0.8"/>
<path d="M-3 -2 L0 2 L3 -2" fill="none" stroke="#ddd" stroke-width="1" />
<rect x="-3" y="6.5" width="6" height="5.5" fill="#cfcfcf" stroke="#2a2a2a" stroke-width="0.8" rx="0" />
</g>
<g transform="translate(427.4 464) rotate(0) scale(0.92)">
<path d="M-6 6 L-6 -2 Q-6 -8 0 -8 Q6 -8 6 -2 L6 6 Z" fill="none" stroke="#2a2a2a" stroke-width="1.1" />
<path d="M-7.6 -0.5 Q-7.8 -10 0 -10 Q7.8 -10 7.6 -0.5" fill="none" stroke="#2a2a2a" stroke-width="2.1" />
</g>
<text transform="translate(407 483) rotate(90)" font-size="7.4" font-weight="bold" font-style="italic" text-anchor="start" fill="#2a2a2a" >Accueil</text>
<line x1="320" y1="535" x2="451" y2="535" stroke="#2a2a2a" stroke-width="0.9" stroke-linecap="butt"/>
<path d="M320 532 L320 538 M451 532 L451 538" fill="none" stroke="#2a2a2a" stroke-width="0.8" />
<text transform="translate(380 533.5) rotate(0)" font-size="7" font-weight="normal" font-style="normal" text-anchor="start" fill="#262626" >5.00</text>
<line x1="320" y1="541.5" x2="453" y2="541.5" stroke="#2a2a2a" stroke-width="1" stroke-linecap="butt"/>
<line x1="320" y1="543.5" x2="453" y2="543.5" stroke="#2a2a2a" stroke-width="1" stroke-linecap="butt"/>
<line x1="321" y1="545" x2="451" y2="545" stroke="#2a2a2a" stroke-width="0.8" stroke-linecap="butt"/>
<line x1="321" y1="577" x2="451" y2="577" stroke="#2a2a2a" stroke-width="0.8" stroke-linecap="butt"/>
<line x1="451" y1="545" x2="451" y2="577" stroke="#2a2a2a" stroke-width="0.8" stroke-linecap="butt"/>
<line x1="329.1" y1="545" x2="329.1" y2="577" stroke="#2a2a2a" stroke-width="0.9" stroke-linecap="butt"/>
<line x1="336.3" y1="545" x2="336.3" y2="577" stroke="#2a2a2a" stroke-width="0.9" stroke-linecap="butt"/>
<line x1="343.6" y1="545" x2="343.6" y2="577" stroke="#2a2a2a" stroke-width="0.9" stroke-linecap="butt"/>
<line x1="350.8" y1="545" x2="350.8" y2="577" stroke="#2a2a2a" stroke-width="0.9" stroke-linecap="butt"/>
<line x1="358.1" y1="545" x2="358.1" y2="577" stroke="#2a2a2a" stroke-width="0.9" stroke-linecap="butt"/>
<line x1="365.3" y1="545" x2="365.3" y2="577" stroke="#2a2a2a" stroke-width="0.9" stroke-linecap="butt"/>
<line x1="372.6" y1="545" x2="372.6" y2="577" stroke="#2a2a2a" stroke-width="0.9" stroke-linecap="butt"/>
<line x1="379.8" y1="545" x2="379.8" y2="577" stroke="#2a2a2a" stroke-width="0.9" stroke-linecap="butt"/>
<line x1="387.1" y1="545" x2="387.1" y2="577" stroke="#2a2a2a" stroke-width="0.9" stroke-linecap="butt"/>
<line x1="394.3" y1="545" x2="394.3" y2="577" stroke="#2a2a2a" stroke-width="0.9" stroke-linecap="butt"/>
<line x1="401.6" y1="545" x2="401.6" y2="577" stroke="#2a2a2a" stroke-width="0.9" stroke-linecap="butt"/>
<line x1="408.8" y1="545" x2="408.8" y2="577" stroke="#2a2a2a" stroke-width="0.9" stroke-linecap="butt"/>
<line x1="416.1" y1="545" x2="416.1" y2="577" stroke="#2a2a2a" stroke-width="0.9" stroke-linecap="butt"/>
<line x1="423.3" y1="545" x2="423.3" y2="577" stroke="#2a2a2a" stroke-width="0.9" stroke-linecap="butt"/>
<line x1="430.6" y1="545" x2="430.6" y2="577" stroke="#2a2a2a" stroke-width="0.9" stroke-linecap="butt"/>
<line x1="437.8" y1="545" x2="437.8" y2="577" stroke="#2a2a2a" stroke-width="0.9" stroke-linecap="butt"/>
<line x1="445.1" y1="545" x2="445.1" y2="577" stroke="#2a2a2a" stroke-width="0.9" stroke-linecap="butt"/>
<path d="M322 560.5 L328 557.5 M322 560.5 L328 563.5" fill="none" stroke="#2a2a2a" stroke-width="1" />
<line x1="322" y1="560.5" x2="451" y2="560.5" stroke="#2a2a2a" stroke-width="0.9" stroke-linecap="butt"/>
<line x1="454.5" y1="541" x2="454.5" y2="580" stroke="#2a2a2a" stroke-width="1.2" stroke-linecap="butt"/>
<line x1="457" y1="541" x2="457" y2="580" stroke="#2a2a2a" stroke-width="0.8" stroke-linecap="butt"/>
<text transform="translate(457 550) rotate(90)" font-size="6.5" font-weight="normal" font-style="normal" text-anchor="start" fill="#262626" >1.50</text>
<text transform="translate(459 573) rotate(0)" font-size="5.5" font-weight="normal" font-style="normal" text-anchor="start" fill="#262626" >0.03</text>
<line x1="458" y1="574.5" x2="478" y2="574.5" stroke="#2a2a2a" stroke-width="0.7" stroke-linecap="butt"/>
<path d="M317 579L317 556A23.0 23.0 0 0 0 295 579" fill="none" stroke="#2a2a2a" stroke-width="1" />
<line x1="108" y1="578.3" x2="480" y2="578.3" stroke="#2a2a2a" stroke-width="1" stroke-linecap="butt"/>
<line x1="108" y1="580.5" x2="480" y2="580.5" stroke="#2a2a2a" stroke-width="1" stroke-linecap="butt"/>
<line x1="182.5" y1="581" x2="182.5" y2="695" stroke="#2a2a2a" stroke-width="1" stroke-linecap="butt"/>
<line x1="185.1" y1="581" x2="185.1" y2="695" stroke="#2a2a2a" stroke-width="1" stroke-linecap="butt"/>
<path d="M184 695 A25 25 0 0 0 184 745" fill="none" stroke="#2a2a2a" stroke-width="1" />
<line x1="107" y1="719.5" x2="185" y2="719.5" stroke="#2a2a2a" stroke-width="1.2" stroke-linecap="butt"/>
<line x1="107" y1="721.3" x2="185" y2="721.3" stroke="#2a2a2a" stroke-width="0.8" stroke-linecap="butt"/>
<line x1="164" y1="720" x2="186" y2="720" stroke="#222" stroke-width="2" stroke-linecap="butt"/>
<line x1="182.5" y1="745" x2="182.5" y2="849" stroke="#2a2a2a" stroke-width="1" stroke-linecap="butt"/>
<line x1="185.1" y1="745" x2="185.1" y2="849" stroke="#2a2a2a" stroke-width="1" stroke-linecap="butt"/>
<text transform="translate(162.5 623) rotate(90)" font-size="6.8" font-weight="bold" font-style="italic" text-anchor="start" fill="#2a2a2a" >Bureau en attente</text>
<text transform="translate(154.5 637) rotate(90)" font-size="6.8" font-weight="bold" font-style="italic" text-anchor="start" fill="#2a2a2a" >15,27 m²</text>
<text transform="translate(139 717) rotate(0)" font-size="6.6" font-weight="bold" font-style="italic" text-anchor="start" fill="#2a2a2a" >VSA</text>
<line x1="193.5" y1="581" x2="193.5" y2="626" stroke="#2a2a2a" stroke-width="1" stroke-linecap="butt"/>
<line x1="193.5" y1="626" x2="239" y2="626" stroke="#2a2a2a" stroke-width="1" stroke-linecap="butt"/>
<line x1="239" y1="626" x2="239" y2="635" stroke="#2a2a2a" stroke-width="1" stroke-linecap="butt"/>
<line x1="186" y1="634" x2="319" y2="634" stroke="#2a2a2a" stroke-width="1" stroke-linecap="butt"/>
<line x1="186" y1="636.4" x2="319" y2="636.4" stroke="#2a2a2a" stroke-width="1" stroke-linecap="butt"/>
<line x1="318" y1="581" x2="318" y2="611" stroke="#2a2a2a" stroke-width="1" stroke-linecap="butt"/>
<line x1="320.4" y1="581" x2="320.4" y2="611" stroke="#2a2a2a" stroke-width="1" stroke-linecap="butt"/>
<path d="M318.4 634L295.6 634A22.8 22.8 0 0 1 318.4 611" fill="none" stroke="#2a2a2a" stroke-width="1" />
<text transform="translate(269.5 585.5) rotate(90)" font-size="6.8" font-weight="bold" font-style="italic" text-anchor="start" fill="#2a2a2a" >Echantillons</text>
<text transform="translate(263 605) rotate(90)" font-size="6" font-weight="bold" font-style="normal" text-anchor="start" fill="#2a2a2a" >+</text>
<text transform="translate(255.5 596.5) rotate(90)" font-size="6.8" font-weight="bold" font-style="italic" text-anchor="start" fill="#2a2a2a" >Docs</text>
<text transform="translate(241.5 607.5) rotate(90)" font-size="6.6" font-weight="bold" font-style="italic" text-anchor="start" fill="#2a2a2a" >10,6 m²</text>
<path d="M328 581L328 603A22.0 22.0 0 0 0 348 583" fill="none" stroke="#2a2a2a" stroke-width="1" />
<rect x="266" y="637" width="51.5" height="10.5" fill="none" stroke="#2a2a2a" stroke-width="1" rx="0" />
<line x1="292.5" y1="637" x2="292.5" y2="647.5" stroke="#2a2a2a" stroke-width="1" stroke-linecap="butt"/>
<line x1="317.8" y1="636" x2="317.8" y2="708" stroke="#2a2a2a" stroke-width="1" stroke-linecap="butt"/>
<line x1="320.40000000000003" y1="636" x2="320.40000000000003" y2="708" stroke="#2a2a2a" stroke-width="1" stroke-linecap="butt"/>
<path d="M318 708 L313 714 M320.5 708 L315 716" fill="none" stroke="#2a2a2a" stroke-width="1" />
<line x1="220" y1="713.5" x2="314" y2="713.5" stroke="#2a2a2a" stroke-width="1" stroke-linecap="butt"/>
<line x1="220" y1="715.7" x2="314" y2="715.7" stroke="#2a2a2a" stroke-width="1" stroke-linecap="butt"/>
<line x1="220" y1="693" x2="220" y2="714" stroke="#2a2a2a" stroke-width="1" stroke-linecap="butt"/>
<line x1="207.5" y1="693" x2="220.5" y2="693" stroke="#2a2a2a" stroke-width="1" stroke-linecap="butt"/>
<path d="M185.6 693L185.6 670A23.0 23.0 0 0 1 207.5 693" fill="none" stroke="#2a2a2a" stroke-width="1" />
<line x1="228" y1="714.6" x2="292" y2="714.6" stroke="#222" stroke-width="2.4" stroke-linecap="butt"/>
<text transform="translate(250 659) rotate(90)" font-size="6.8" font-weight="bold" font-style="italic" text-anchor="start" fill="#2a2a2a" >ADV</text>
<text transform="translate(241.5 653.5) rotate(90)" font-size="6.6" font-weight="bold" font-style="italic" text-anchor="start" fill="#2a2a2a" >15,21 m²</text>
<rect x="253" y="690" width="53" height="18.5" fill="none" stroke="#2a2a2a" stroke-width="1.1" rx="0" />
<g transform="translate(281.5 684) rotate(0) scale(1.1)">
<path d="M-7.6 3 Q-8.8 -8.6 0 -8.8 Q8.8 -8.6 7.6 3" fill="none" stroke="#2a2a2a" stroke-width="1.6" />
<ellipse cx="0" cy="0.3" rx="6.3" ry="6.6" fill="none" stroke="#2a2a2a" stroke-width="1.1"/>
<ellipse cx="-0.3" cy="-0.6" rx="3.1" ry="3.5" fill="#e2e2e2" stroke="#2a2a2a" stroke-width="1.1"/>
<path d="M-2 -3 L-1.5 2 M1 -2.5 L1.5 1.5" fill="none" stroke="#555" stroke-width="0.8" />
<path d="M-6 2.5 L-5 8.6 M5.6 2 L3.2 9.2" fill="none" stroke="#2a2a2a" stroke-width="1.3" />
<path d="M-7.2 -7.4 L-6.6 -4.4 M7.2 -7.4 L6.6 -4.4" fill="none" stroke="#2a2a2a" stroke-width="1.2" />
</g>
<g transform="translate(281.5 698.5) rotate(0) scale(1.05)">
<rect x="-5.8" y="-2.6" width="6.2" height="5.2" fill="#111" stroke="#2a2a2a" stroke-width="0.5" rx="0" />
<rect x="0.4" y="-2.6" width="5.4" height="5.2" fill="#8a8a8a" stroke="#2a2a2a" stroke-width="0.7" rx="0" />
<path d="M2 -2.6 L2 2.6 M3.8 -2.6 L3.8 2.6" fill="none" stroke="#333" stroke-width="0.6" />
</g>
<g transform="translate(268.5 697) rotate(35) scale(0.85)">
<rect x="-2.8" y="-3.5" width="5.6" height="7" fill="#111" stroke="#2a2a2a" stroke-width="0.4" rx="0.6" />
</g>
<text transform="translate(320.5 682.5) rotate(90)" font-size="6.4" font-weight="bold" font-style="italic" text-anchor="start" fill="#2a2a2a" >VTH</text>
<text transform="translate(238.5 725.5) rotate(0)" font-size="6.6" font-weight="bold" font-style="italic" text-anchor="start" fill="#2a2a2a" >VTH</text>
<text transform="translate(268.5 725.5) rotate(0)" font-size="6.6" font-weight="bold" font-style="italic" text-anchor="start" fill="#2a2a2a" >VTH</text>
<text transform="translate(254 750.5) rotate(0)" font-size="6.6" font-weight="bold" font-style="italic" text-anchor="start" fill="#2a2a2a" >VTH</text>
<text transform="translate(291 750.5) rotate(0)" font-size="6.6" font-weight="bold" font-style="italic" text-anchor="start" fill="#2a2a2a" >VTH</text>
<rect x="109" y="731" width="11" height="51.5" fill="none" stroke="#2a2a2a" stroke-width="1" rx="0" />
<line x1="109" y1="757" x2="120" y2="757" stroke="#2a2a2a" stroke-width="1" stroke-linecap="butt"/>
<text transform="translate(143.2 747.5) rotate(90)" font-size="5.4" font-weight="bold" font-style="normal" text-anchor="start" fill="#1c1c1c" textLength="73" lengthAdjust="spacingAndGlyphs">Attention ce bureau comporte</text>
<text transform="translate(137.2 747.5) rotate(90)" font-size="5.4" font-weight="bold" font-style="normal" text-anchor="start" fill="#1c1c1c" textLength="70" lengthAdjust="spacingAndGlyphs">une VL dans ce cas il ne doit</text>
<text transform="translate(131.2 747.5) rotate(90)" font-size="5.4" font-weight="bold" font-style="normal" text-anchor="start" fill="#1c1c1c" textLength="82" lengthAdjust="spacingAndGlyphs">jamais être fermé à clé sauf si</text>
<text transform="translate(125.19999999999999 747.5) rotate(90)" font-size="5.4" font-weight="bold" font-style="normal" text-anchor="start" fill="#1c1c1c" textLength="93" lengthAdjust="spacingAndGlyphs">un dispositif permettant l'évacuation</text>
<rect x="131" y="796.5" width="19" height="52.0" fill="none" stroke="#2a2a2a" stroke-width="0.8" rx="0" />
<text transform="translate(159.6 773) rotate(90)" font-size="7.2" font-weight="bold" font-style="italic" text-anchor="start" fill="#2a2a2a" >Figerista</text>
<text transform="translate(152 777.5) rotate(90)" font-size="7.2" font-weight="bold" font-style="italic" text-anchor="start" fill="#2a2a2a" >14,2 m²</text>
<text transform="translate(176 782.5) rotate(90)" font-size="6.4" font-weight="bold" font-style="italic" text-anchor="start" fill="#2a2a2a" >VSA</text>
<g transform="translate(124 822) rotate(-90) scale(1.1)">
<path d="M-7.6 3 Q-8.8 -8.6 0 -8.8 Q8.8 -8.6 7.6 3" fill="none" stroke="#2a2a2a" stroke-width="1.6" />
<ellipse cx="0" cy="0.3" rx="6.3" ry="6.6" fill="none" stroke="#2a2a2a" stroke-width="1.1"/>
<ellipse cx="-0.3" cy="-0.6" rx="3.1" ry="3.5" fill="#e2e2e2" stroke="#2a2a2a" stroke-width="1.1"/>
<path d="M-2 -3 L-1.5 2 M1 -2.5 L1.5 1.5" fill="none" stroke="#555" stroke-width="0.8" />
<path d="M-6 2.5 L-5 8.6 M5.6 2 L3.2 9.2" fill="none" stroke="#2a2a2a" stroke-width="1.3" />
<path d="M-7.2 -7.4 L-6.6 -4.4 M7.2 -7.4 L6.6 -4.4" fill="none" stroke="#2a2a2a" stroke-width="1.2" />
</g>
<g transform="translate(140 823) rotate(-90) scale(1.05)">
<rect x="-5.8" y="-2.6" width="6.2" height="5.2" fill="#111" stroke="#2a2a2a" stroke-width="0.5" rx="0" />
<rect x="0.4" y="-2.6" width="5.4" height="5.2" fill="#8a8a8a" stroke="#2a2a2a" stroke-width="0.7" rx="0" />
<path d="M2 -2.6 L2 2.6 M3.8 -2.6 L3.8 2.6" fill="none" stroke="#333" stroke-width="0.6" />
</g>
<g transform="translate(138.2 834) rotate(35) scale(0.85)">
<rect x="-2.8" y="-3.5" width="5.6" height="7" fill="#111" stroke="#2a2a2a" stroke-width="0.4" rx="0.6" />
</g>
<path d="M185.6 755L185.6 778A23.0 23.0 0 0 0 208 755" fill="none" stroke="#2a2a2a" stroke-width="1" />
<line x1="208" y1="753.8" x2="340" y2="753.8" stroke="#2a2a2a" stroke-width="1" stroke-linecap="butt"/>
<line x1="208" y1="756.0" x2="340" y2="756.0" stroke="#2a2a2a" stroke-width="1" stroke-linecap="butt"/>
<path d="M338.6 755 L350.5 763 M339 757.2 L352 765.5" fill="none" stroke="#2a2a2a" stroke-width="1" />
<line x1="350.5" y1="764" x2="350.5" y2="850" stroke="#2a2a2a" stroke-width="1" stroke-linecap="butt"/>
<line x1="352.9" y1="764" x2="352.9" y2="850" stroke="#2a2a2a" stroke-width="1" stroke-linecap="butt"/>
<rect x="340" y="783" width="10" height="65" fill="none" stroke="#2a2a2a" stroke-width="1" rx="0" />
<line x1="340" y1="817" x2="350" y2="817" stroke="#2a2a2a" stroke-width="1" stroke-linecap="butt"/>
<g transform="translate(209.5 793.5) rotate(90) scale(0.9)">
<path d="M-6 6 L-6 -2 Q-6 -8 0 -8 Q6 -8 6 -2 L6 6 Z" fill="none" stroke="#2a2a2a" stroke-width="1.1" />
<path d="M-7.6 -0.5 Q-7.8 -10 0 -10 Q7.8 -10 7.6 -0.5" fill="none" stroke="#2a2a2a" stroke-width="2.1" />
</g>
<rect x="185.6" y="806" width="51.400000000000006" height="18.5" fill="none" stroke="#2a2a2a" stroke-width="1.1" rx="0" />
<g transform="translate(210.5 830) rotate(180) scale(1.1)">
<path d="M-7.6 3 Q-8.8 -8.6 0 -8.8 Q8.8 -8.6 7.6 3" fill="none" stroke="#2a2a2a" stroke-width="1.6" />
<ellipse cx="0" cy="0.3" rx="6.3" ry="6.6" fill="none" stroke="#2a2a2a" stroke-width="1.1"/>
<ellipse cx="-0.3" cy="-0.6" rx="3.1" ry="3.5" fill="#e2e2e2" stroke="#2a2a2a" stroke-width="1.1"/>
<path d="M-2 -3 L-1.5 2 M1 -2.5 L1.5 1.5" fill="none" stroke="#555" stroke-width="0.8" />
<path d="M-6 2.5 L-5 8.6 M5.6 2 L3.2 9.2" fill="none" stroke="#2a2a2a" stroke-width="1.3" />
<path d="M-7.2 -7.4 L-6.6 -4.4 M7.2 -7.4 L6.6 -4.4" fill="none" stroke="#2a2a2a" stroke-width="1.2" />
</g>
<g transform="translate(211.5 816.5) rotate(180) scale(1.15)">
<rect x="-5.8" y="-2.6" width="6.2" height="5.2" fill="#111" stroke="#2a2a2a" stroke-width="0.5" rx="0" />
<rect x="0.4" y="-2.6" width="5.4" height="5.2" fill="#8a8a8a" stroke="#2a2a2a" stroke-width="0.7" rx="0" />
<path d="M2 -2.6 L2 2.6 M3.8 -2.6 L3.8 2.6" fill="none" stroke="#333" stroke-width="0.6" />
</g>
<g transform="translate(222.3 818) rotate(35) scale(0.85)">
<rect x="-2.8" y="-3.5" width="5.6" height="7" fill="#111" stroke="#2a2a2a" stroke-width="0.4" rx="0.6" />
</g>
<text transform="translate(286.5 784) rotate(90)" font-size="6.8" font-weight="bold" font-style="italic" text-anchor="start" fill="#2a2a2a" >Chef de projets</text>
<text transform="translate(278.5 795) rotate(90)" font-size="6.8" font-weight="bold" font-style="italic" text-anchor="start" fill="#2a2a2a" >Achats</text>
<text transform="translate(270 796.5) rotate(90)" font-size="6.8" font-weight="bold" font-style="italic" text-anchor="start" fill="#2a2a2a" >22,91 m²</text>
<line x1="358.5" y1="581" x2="358.5" y2="685" stroke="#2a2a2a" stroke-width="1" stroke-linecap="butt"/>
<line x1="361.1" y1="581" x2="361.1" y2="685" stroke="#2a2a2a" stroke-width="1" stroke-linecap="butt"/>
<path d="M361 685 A22.5 22.5 0 0 1 383.5 707.5" fill="none" stroke="#2a2a2a" stroke-width="1" />
<line x1="359" y1="707.5" x2="383.5" y2="707.5" stroke="#2a2a2a" stroke-width="1" stroke-linecap="butt"/>
<line x1="358.5" y1="707" x2="358.5" y2="728" stroke="#2a2a2a" stroke-width="1" stroke-linecap="butt"/>
<line x1="361.1" y1="707" x2="361.1" y2="728" stroke="#2a2a2a" stroke-width="1" stroke-linecap="butt"/>
<path d="M358.5 728 L381 749 M361 727 L383 747" fill="none" stroke="#2a2a2a" stroke-width="1" />
<line x1="382" y1="747" x2="483" y2="747" stroke="#2a2a2a" stroke-width="1" stroke-linecap="butt"/>
<line x1="382" y1="749.2" x2="483" y2="749.2" stroke="#2a2a2a" stroke-width="1" stroke-linecap="butt"/>
<text transform="translate(360.6 648) rotate(90)" font-size="6.4" font-weight="bold" font-style="italic" text-anchor="start" fill="#2a2a2a" >VTH</text>
<path d="M344.6 746.5 A22.3 22.3 0 0 0 376.9 743.5" fill="none" stroke="#2a2a2a" stroke-width="1" />
<path d="M338.6 754.4 L344 746 M340.3 755.4 L345.6 747" fill="none" stroke="#2a2a2a" stroke-width="1" />
<rect x="371.4" y="582.5" width="30.80000000000001" height="10.200000000000045" fill="none" stroke="#2a2a2a" stroke-width="1" rx="0" />
<rect x="433" y="582.5" width="30.399999999999977" height="10.200000000000045" fill="none" stroke="#2a2a2a" stroke-width="1" rx="0" />
<rect x="402.2" y="603.5" width="16.0" height="38.5" fill="none" stroke="#2a2a2a" stroke-width="1" rx="0" />
<rect x="418.2" y="603.5" width="15.5" height="38.5" fill="none" stroke="#2a2a2a" stroke-width="1" rx="0" />
<rect x="371.4" y="624.7" width="30.80000000000001" height="17.299999999999955" fill="none" stroke="#2a2a2a" stroke-width="1" rx="0" />
<rect x="433.7" y="624.7" width="29.69999999999999" height="17.299999999999955" fill="none" stroke="#2a2a2a" stroke-width="1" rx="0" />
<rect x="377.8" y="642" width="39.89999999999998" height="8.600000000000023" fill="none" stroke="#2a2a2a" stroke-width="1" rx="0" />
<rect x="417.7" y="642" width="33.69999999999999" height="17.5" fill="none" stroke="#2a2a2a" stroke-width="1" rx="0" />
<path d="M380.8 624.7 L380.8 617.5 L393.8 617.5 L393.8 624.7" fill="none" stroke="#2a2a2a" stroke-width="1.3" />
<line x1="380.8" y1="618" x2="393.8" y2="618" stroke="#333" stroke-width="2.4" stroke-linecap="butt"/>
<path d="M441.5 624.7 L441.5 617.5 L454.5 617.5 L454.5 624.7" fill="none" stroke="#2a2a2a" stroke-width="1.3" />
<line x1="441.5" y1="618" x2="454.5" y2="618" stroke="#333" stroke-width="2.4" stroke-linecap="butt"/>
<g transform="translate(409.2 614.8) rotate(180) scale(0.95)">
<rect x="-0.4" y="-5.7" width="5.4" height="11.4" fill="#d8d8d8" stroke="#2a2a2a" stroke-width="1.5" rx="0.8" />
<rect x="1.2" y="-3.6" width="2.2" height="7.2" fill="#666" stroke="#2a2a2a" stroke-width="0.4" rx="0" />
<path d="M-2.4 -7.2 L-5 0 L-2.4 7.2" fill="none" stroke="#2a2a2a" stroke-width="1.8" />
</g>
<g transform="translate(425.8 614.5) rotate(0) scale(0.95)">
<rect x="-0.4" y="-5.7" width="5.4" height="11.4" fill="#d8d8d8" stroke="#2a2a2a" stroke-width="1.5" rx="0.8" />
<rect x="1.2" y="-3.6" width="2.2" height="7.2" fill="#666" stroke="#2a2a2a" stroke-width="0.4" rx="0" />
<path d="M-2.4 -7.2 L-5 0 L-2.4 7.2" fill="none" stroke="#2a2a2a" stroke-width="1.8" />
</g>
<g transform="translate(376.2 631.4) rotate(-35) scale(0.8)">
<rect x="-2.8" y="-3.5" width="5.6" height="7" fill="#111" stroke="#2a2a2a" stroke-width="0.4" rx="0.6" />
</g>
<g transform="translate(459 631.4) rotate(35) scale(0.8)">
<rect x="-2.8" y="-3.5" width="5.6" height="7" fill="#111" stroke="#2a2a2a" stroke-width="0.4" rx="0.6" />
</g>
<text transform="translate(419.8 675.3) rotate(90)" font-size="6.8" font-weight="bold" font-style="italic" text-anchor="start" fill="#2a2a2a" >BE</text>
<text transform="translate(408.3 665.6) rotate(90)" font-size="7.2" font-weight="bold" font-style="italic" text-anchor="start" fill="#2a2a2a" >20,49 m²</text>
<text transform="translate(471.8 680) rotate(90)" font-size="7.4" font-weight="bold" font-style="italic" text-anchor="start" fill="#2a2a2a" >Traceur</text>
<path d="M481 674.3 L466.8 674.3 L466.8 712.3 L481 712.3" fill="none" stroke="#2a2a2a" stroke-width="1" stroke-dasharray="5 2.5"/>
<rect x="473" y="714" width="3" height="4.5" fill="#222" stroke="#2a2a2a" stroke-width="0" rx="0" />
<rect x="388.2" y="708" width="16.5" height="38.200000000000045" fill="none" stroke="#2a2a2a" stroke-width="1" rx="0" />
<rect x="404.7" y="708" width="30.30000000000001" height="19" fill="none" stroke="#2a2a2a" stroke-width="1" rx="0" />
<path d="M413 727 L413 734 L426.5 734 L426.5 727" fill="none" stroke="#2a2a2a" stroke-width="1.3" />
<line x1="413" y1="733.5" x2="426.5" y2="733.5" stroke="#333" stroke-width="2.2" stroke-linecap="butt"/>
<g transform="translate(398.5 735.5) rotate(0) scale(0.9)">
<rect x="-0.4" y="-5.7" width="5.4" height="11.4" fill="#d8d8d8" stroke="#2a2a2a" stroke-width="1.5" rx="0.8" />
<rect x="1.2" y="-3.6" width="2.2" height="7.2" fill="#666" stroke="#2a2a2a" stroke-width="0.4" rx="0" />
<path d="M-2.4 -7.2 L-5 0 L-2.4 7.2" fill="none" stroke="#2a2a2a" stroke-width="1.8" />
</g>
<g transform="translate(431 719) rotate(35) scale(0.8)">
<rect x="-2.8" y="-3.5" width="5.6" height="7" fill="#111" stroke="#2a2a2a" stroke-width="0.4" rx="0.6" />
</g>
<rect x="451.4" y="736.6" width="30.600000000000023" height="9.600000000000023" fill="none" stroke="#2a2a2a" stroke-width="1" rx="0" />
<rect x="391.6" y="749" width="76.19999999999999" height="9.399999999999977" fill="none" stroke="#2a2a2a" stroke-width="1" rx="0" />
<line x1="430.2" y1="749" x2="430.2" y2="758.4" stroke="#2a2a2a" stroke-width="1" stroke-linecap="butt"/>
<text transform="translate(406.5 772) rotate(90)" font-size="6.8" font-weight="bold" font-style="italic" text-anchor="start" fill="#2a2a2a" >Direction</text>
<text transform="translate(398 775) rotate(90)" font-size="6.8" font-weight="bold" font-style="italic" text-anchor="start" fill="#2a2a2a" >20,78 m²</text>
<rect x="437" y="797" width="18" height="52" fill="none" stroke="#2a2a2a" stroke-width="1.1" rx="0" />
<g transform="translate(427 813) rotate(-90) scale(0.95)">
<path d="M-6 6 L-6 -2 Q-6 -8 0 -8 Q6 -8 6 -2 L6 6 Z" fill="none" stroke="#2a2a2a" stroke-width="1.1" />
<path d="M-7.6 -0.5 Q-7.8 -10 0 -10 Q7.8 -10 7.6 -0.5" fill="none" stroke="#2a2a2a" stroke-width="2.1" />
</g>
<g transform="translate(424 836) rotate(-70) scale(1.1)">
<path d="M-7.6 3 Q-8.8 -8.6 0 -8.8 Q8.8 -8.6 7.6 3" fill="none" stroke="#2a2a2a" stroke-width="1.6" />
<ellipse cx="0" cy="0.3" rx="6.3" ry="6.6" fill="none" stroke="#2a2a2a" stroke-width="1.1"/>
<ellipse cx="-0.3" cy="-0.6" rx="3.1" ry="3.5" fill="#e2e2e2" stroke="#2a2a2a" stroke-width="1.1"/>
<path d="M-2 -3 L-1.5 2 M1 -2.5 L1.5 1.5" fill="none" stroke="#555" stroke-width="0.8" />
<path d="M-6 2.5 L-5 8.6 M5.6 2 L3.2 9.2" fill="none" stroke="#2a2a2a" stroke-width="1.3" />
<path d="M-7.2 -7.4 L-6.6 -4.4 M7.2 -7.4 L6.6 -4.4" fill="none" stroke="#2a2a2a" stroke-width="1.2" />
</g>
<g transform="translate(466 822) rotate(110) scale(1.1)">
<path d="M-7.6 3 Q-8.8 -8.6 0 -8.8 Q8.8 -8.6 7.6 3" fill="none" stroke="#2a2a2a" stroke-width="1.6" />
<ellipse cx="0" cy="0.3" rx="6.3" ry="6.6" fill="none" stroke="#2a2a2a" stroke-width="1.1"/>
<ellipse cx="-0.3" cy="-0.6" rx="3.1" ry="3.5" fill="#e2e2e2" stroke="#2a2a2a" stroke-width="1.1"/>
<path d="M-2 -3 L-1.5 2 M1 -2.5 L1.5 1.5" fill="none" stroke="#555" stroke-width="0.8" />
<path d="M-6 2.5 L-5 8.6 M5.6 2 L3.2 9.2" fill="none" stroke="#2a2a2a" stroke-width="1.3" />
<path d="M-7.2 -7.4 L-6.6 -4.4 M7.2 -7.4 L6.6 -4.4" fill="none" stroke="#2a2a2a" stroke-width="1.2" />
</g>
<g transform="translate(446 823) rotate(90) scale(0.85)">
<rect x="-5.8" y="-2.6" width="6.2" height="5.2" fill="#111" stroke="#2a2a2a" stroke-width="0.5" rx="0" />
<rect x="0.4" y="-2.6" width="5.4" height="5.2" fill="#8a8a8a" stroke="#2a2a2a" stroke-width="0.7" rx="0" />
<path d="M2 -2.6 L2 2.6 M3.8 -2.6 L3.8 2.6" fill="none" stroke="#333" stroke-width="0.6" />
</g>
<g transform="translate(446 808) rotate(50) scale(0.8)">
<rect x="-2.8" y="-3.5" width="5.6" height="7" fill="#111" stroke="#2a2a2a" stroke-width="0.4" rx="0.6" />
</g>
<circle cx="359" cy="847" r="1.2" fill="#333" stroke="#2a2a2a" stroke-width="0"/>
<path d="M496 78L501.7 78L505.21 857L499.51 857Z" fill="url(#hat)" stroke="#2a2a2a" stroke-width="1" />
<line x1="503.4" y1="188" x2="506.99" y2="852" stroke="#151515" stroke-width="2.2" stroke-linecap="butt"/>
<line x1="493.97" y1="182" x2="499.97" y2="182" stroke="#2a2a2a" stroke-width="0.8" stroke-linecap="butt"/>
<line x1="494.5" y1="300" x2="500.5" y2="300" stroke="#2a2a2a" stroke-width="0.8" stroke-linecap="butt"/>
<line x1="494.78" y1="362" x2="500.78" y2="362" stroke="#2a2a2a" stroke-width="0.8" stroke-linecap="butt"/>
<line x1="495.73" y1="574" x2="501.73" y2="574" stroke="#2a2a2a" stroke-width="0.8" stroke-linecap="butt"/>
<line x1="496.33" y1="706" x2="502.33" y2="706" stroke="#2a2a2a" stroke-width="0.8" stroke-linecap="butt"/>
<line x1="503" y1="182.5" x2="872" y2="182.5" stroke="#444" stroke-width="0.7" stroke-linecap="butt"/>
<line x1="503" y1="185.5" x2="872" y2="185.5" stroke="#444" stroke-width="0.7" stroke-linecap="butt"/>
<line x1="503" y1="187.5" x2="872" y2="187.5" stroke="#444" stroke-width="0.7" stroke-linecap="butt"/>
<rect x="503.5" y="182" width="34.5" height="6.5" fill="url(#hat)" stroke="#2a2a2a" stroke-width="1" rx="0" />
<rect x="590" y="182" width="52" height="6.5" fill="url(#hat)" stroke="#2a2a2a" stroke-width="1" rx="0" />
<rect x="693" y="182" width="183" height="6.5" fill="url(#hat)" stroke="#2a2a2a" stroke-width="1" rx="0" />
<line x1="504" y1="188.3" x2="538" y2="188.3" stroke="#151515" stroke-width="1.6" stroke-linecap="butt"/>
<line x1="590" y1="188.3" x2="642" y2="188.3" stroke="#151515" stroke-width="1.6" stroke-linecap="butt"/>
<line x1="693" y1="188.3" x2="876" y2="188.3" stroke="#151515" stroke-width="1.6" stroke-linecap="butt"/>
<text transform="translate(557 179.5) rotate(0)" font-size="6.6" font-weight="bold" font-style="italic" text-anchor="start" fill="#2a2a2a" >VSA</text>
<text transform="translate(662 179.5) rotate(0)" font-size="6.6" font-weight="bold" font-style="italic" text-anchor="start" fill="#2a2a2a" >VSA</text>
<line x1="872.3" y1="78" x2="875.77" y2="850" stroke="#2a2a2a" stroke-width="0.9" stroke-linecap="butt" stroke-dasharray="6 3"/>
<line x1="879" y1="77" x2="879.48" y2="184" stroke="#0e0e0e" stroke-width="4" stroke-linecap="butt"/>
<line x1="876.1" y1="183" x2="879.13" y2="857" stroke="#333" stroke-width="0.8" stroke-linecap="butt"/>
<line x1="878.6" y1="183" x2="881.63" y2="857" stroke="#333" stroke-width="0.8" stroke-linecap="butt"/>
<line x1="882.3000000000001" y1="183" x2="885.33" y2="857" stroke="#333" stroke-width="0.8" stroke-linecap="butt"/>
<path d="M876.1 183L882.3 183L882.41 208L876.21 208Z" fill="#0e0e0e" stroke="#0e0e0e" stroke-width="0.4" />
<path d="M876.64 303L882.84 303L883.07 354L876.87 354Z" fill="#0e0e0e" stroke="#0e0e0e" stroke-width="0.4" />
<path d="M877.16 418L883.36 418L883.55 460L877.35 460Z" fill="#0e0e0e" stroke="#0e0e0e" stroke-width="0.4" />
<path d="M877.85 572L884.05 572L884.25 616L878.05 616Z" fill="#0e0e0e" stroke="#0e0e0e" stroke-width="0.4" />
<path d="M878.47 710L884.67 710L884.87 754L878.67 754Z" fill="#0e0e0e" stroke="#0e0e0e" stroke-width="0.4" />
<path d="M878.96 818L885.16 818L885.33 857L879.13 857Z" fill="#0e0e0e" stroke="#0e0e0e" stroke-width="0.4" />
<path d="M876.38 245 L866.58 247.1 L876.38 266" fill="none" stroke="#2a2a2a" stroke-width="0.9" />
<path d="M877.06 396 L867.26 409.5 L877.06 414" fill="none" stroke="#2a2a2a" stroke-width="0.9" />
<path d="M877.5 493 L867.7 507.2 L877.5 512" fill="none" stroke="#2a2a2a" stroke-width="0.9" />
<path d="M877.63 522 L867.83 524.7 L877.63 540" fill="none" stroke="#2a2a2a" stroke-width="0.9" />
<path d="M878.21 652 L868.4100000000001 654.7 L878.21 670" fill="none" stroke="#2a2a2a" stroke-width="0.9" />
<path d="M878.84 791 L869.0400000000001 808.6 L878.84 813" fill="none" stroke="#2a2a2a" stroke-width="0.9" />
<line x1="867.5" y1="471" x2="873.5" y2="471" stroke="#2a2a2a" stroke-width="0.8" stroke-linecap="butt"/>
<line x1="870.5" y1="468" x2="870.5" y2="474" stroke="#2a2a2a" stroke-width="0.8" stroke-linecap="butt"/>
<line x1="867.5" y1="719" x2="873.5" y2="719" stroke="#2a2a2a" stroke-width="0.8" stroke-linecap="butt"/>
<line x1="870.5" y1="716" x2="870.5" y2="722" stroke="#2a2a2a" stroke-width="0.8" stroke-linecap="butt"/>
<line x1="501" y1="850.0999999999999" x2="884" y2="851.1999999999999" stroke="#333" stroke-width="0.8" stroke-linecap="butt"/>
<line x1="501" y1="853.6999999999999" x2="884" y2="854.8" stroke="#333" stroke-width="0.8" stroke-linecap="butt"/>
<line x1="501" y1="856.5" x2="884" y2="857.6" stroke="#333" stroke-width="0.8" stroke-linecap="butt"/>
<path d="M500 850.1L542 850.3L542 856.9L500 856.7Z" fill="#0e0e0e" stroke="#2a2a2a" stroke-width="0" />
<path d="M664 850.6L754 850.8L754 857.4L664 857.2Z" fill="#0e0e0e" stroke="#2a2a2a" stroke-width="0" />
<path d="M848 851.1L885 851.3L885 857.9L848 857.7Z" fill="#0e0e0e" stroke="#2a2a2a" stroke-width="0" />
<path d="M604.5 850 L609 840 L629 850" fill="none" stroke="#2a2a2a" stroke-width="0.9" />
<path d="M789 851.5 L811 842 L814.5 851.5" fill="none" stroke="#2a2a2a" stroke-width="0.9" />
<line x1="604.5" y1="846" x2="604.5" y2="851" stroke="#2a2a2a" stroke-width="1.2" stroke-linecap="butt"/>
<line x1="718.5" y1="846" x2="718.5" y2="851" stroke="#2a2a2a" stroke-width="1.2" stroke-linecap="butt"/>
<line x1="754.5" y1="846" x2="754.5" y2="851" stroke="#2a2a2a" stroke-width="1.2" stroke-linecap="butt"/>
<line x1="622.8" y1="189" x2="622.8" y2="295" stroke="#2a2a2a" stroke-width="1" stroke-linecap="butt"/>
<line x1="625.1999999999999" y1="189" x2="625.1999999999999" y2="295" stroke="#2a2a2a" stroke-width="1" stroke-linecap="butt"/>
<line x1="709.6" y1="189" x2="709.6" y2="295" stroke="#2a2a2a" stroke-width="1" stroke-linecap="butt"/>
<line x1="712.0" y1="189" x2="712.0" y2="295" stroke="#2a2a2a" stroke-width="1" stroke-linecap="butt"/>
<line x1="505" y1="293.5" x2="566" y2="293.5" stroke="#2a2a2a" stroke-width="1" stroke-linecap="butt"/>
<line x1="505" y1="295.7" x2="566" y2="295.7" stroke="#2a2a2a" stroke-width="1" stroke-linecap="butt"/>
<rect x="565.6" y="254.5" width="37.39999999999998" height="39.5" fill="none" stroke="#2a2a2a" stroke-width="1.2" rx="0" />
<rect x="567.2" y="256" width="34.19999999999993" height="36.5" fill="none" stroke="#2a2a2a" stroke-width="0.6" rx="0" />
<line x1="567" y1="262" x2="601" y2="293" stroke="#2a2a2a" stroke-width="1" stroke-linecap="butt"/>
<line x1="601" y1="262" x2="567" y2="293" stroke="#2a2a2a" stroke-width="1" stroke-linecap="butt"/>
<text transform="translate(584.5 261) rotate(0)" font-size="5.8" font-weight="bold" font-style="italic" text-anchor="middle" fill="#2a2a2a" >Skydome</text>
<path d="M603 295 A21 21 0 0 1 624 274 A21 21 0 0 1 645 295" fill="none" stroke="#2a2a2a" stroke-width="1" />
<line x1="645" y1="293.5" x2="712" y2="293.5" stroke="#2a2a2a" stroke-width="1" stroke-linecap="butt"/>
<line x1="645" y1="295.7" x2="712" y2="295.7" stroke="#2a2a2a" stroke-width="1" stroke-linecap="butt"/>
<path d="M712 273 A23 23 0 0 1 735 295" fill="none" stroke="#2a2a2a" stroke-width="1" />
<text transform="translate(523 232) rotate(90)" font-size="6.8" font-weight="bold" font-style="italic" text-anchor="start" fill="#2a2a2a" >Local</text>
<text transform="translate(515 232) rotate(90)" font-size="6.4" font-weight="bold" font-style="italic" text-anchor="start" fill="#2a2a2a" >18,35 m²</text>
<text transform="translate(686 227) rotate(90)" font-size="6.8" font-weight="bold" font-style="italic" text-anchor="start" fill="#2a2a2a" >Réunion</text>
<text transform="translate(678 232) rotate(90)" font-size="6.4" font-weight="bold" font-style="italic" text-anchor="start" fill="#2a2a2a" >13 m²</text>
<line x1="505" y1="318" x2="544.5" y2="318" stroke="#2a2a2a" stroke-width="1" stroke-linecap="butt"/>
<g transform="translate(514 305.5) rotate(0)">
<rect x="-8" y="-5.5" width="4" height="11" fill="none" stroke="#2a2a2a" stroke-width="0.9" rx="0" />
<ellipse cx="1.5" cy="0" rx="6" ry="4.6" fill="none" stroke="#2a2a2a" stroke-width="1.1"/>
<ellipse cx="2" cy="0" rx="3.6" ry="2.6" fill="none" stroke="#2a2a2a" stroke-width="0.7"/>
</g>
<g transform="translate(514 331) rotate(0)">
<rect x="-8" y="-5.5" width="4" height="11" fill="none" stroke="#2a2a2a" stroke-width="0.9" rx="0" />
<ellipse cx="1.5" cy="0" rx="6" ry="4.6" fill="none" stroke="#2a2a2a" stroke-width="1.1"/>
<ellipse cx="2" cy="0" rx="3.6" ry="2.6" fill="none" stroke="#2a2a2a" stroke-width="0.7"/>
</g>
<text transform="translate(527.4 298) rotate(90)" font-size="5.8" font-weight="bold" font-style="normal" text-anchor="start" fill="#2a2a2a" >1,35 m²</text>
<text transform="translate(534.4 327) rotate(90)" font-size="5.8" font-weight="bold" font-style="normal" text-anchor="start" fill="#2a2a2a" >2,25 m²</text>
<line x1="543.5" y1="316" x2="543.5" y2="334" stroke="#2a2a2a" stroke-width="1" stroke-linecap="butt"/>
<line x1="545.9" y1="316" x2="545.9" y2="334" stroke="#2a2a2a" stroke-width="1" stroke-linecap="butt"/>
<path d="M565.6 296 A19.5 19.5 0 0 1 546 316" fill="none" stroke="#2a2a2a" stroke-width="1" />
<path d="M577.5 296 A23.5 23.5 0 0 0 601.4 319" fill="none" stroke="#2a2a2a" stroke-width="1" />
<circle cx="575.3" cy="328.8" r="19.5" fill="none" stroke="#2a2a2a" stroke-width="1.1"/>
<text transform="translate(579.5 320) rotate(90)" font-size="5.8" font-weight="bold" font-style="normal" text-anchor="start" fill="#2a2a2a" >5,72 m²</text>
<path d="M546 334 A22 22 0 0 1 569 355.4" fill="none" stroke="#2a2a2a" stroke-width="1" />
<line x1="544" y1="356.5" x2="569" y2="356.5" stroke="#222" stroke-width="2.4" stroke-linecap="butt"/>
<rect x="584" y="345.6" width="16" height="14.399999999999977" fill="none" stroke="#2a2a2a" stroke-width="0.9" rx="0" />
<circle cx="590.8" cy="353" r="5" fill="none" stroke="#2a2a2a" stroke-width="1.2"/>
<circle cx="590.8" cy="353" r="1" fill="#333" stroke="#2a2a2a" stroke-width="0"/>
<line x1="505" y1="360" x2="601" y2="360" stroke="#2a2a2a" stroke-width="1" stroke-linecap="butt"/>
<line x1="505" y1="362" x2="601" y2="362" stroke="#2a2a2a" stroke-width="1" stroke-linecap="butt"/>
<line x1="600.3" y1="319" x2="600.3" y2="361" stroke="#2a2a2a" stroke-width="1" stroke-linecap="butt"/>
<line x1="602.9" y1="319" x2="602.9" y2="361" stroke="#2a2a2a" stroke-width="1" stroke-linecap="butt"/>
<line x1="598.5" y1="361" x2="598.5" y2="384" stroke="#2a2a2a" stroke-width="1" stroke-linecap="butt"/>
<line x1="600.9" y1="361" x2="600.9" y2="384" stroke="#2a2a2a" stroke-width="1" stroke-linecap="butt"/>
<path d="M603.5 352 Q614 352 622 336" fill="none" stroke="#2a2a2a" stroke-width="0.9" />
<line x1="622.6" y1="332" x2="673" y2="332" stroke="#2a2a2a" stroke-width="1" stroke-linecap="butt"/>
<line x1="622.6" y1="334.2" x2="673" y2="334.2" stroke="#2a2a2a" stroke-width="1" stroke-linecap="butt"/>
<line x1="622.6" y1="332" x2="622.6" y2="382" stroke="#2a2a2a" stroke-width="1" stroke-linecap="butt"/>
<line x1="670.4" y1="332" x2="670.4" y2="387" stroke="#2a2a2a" stroke-width="1" stroke-linecap="butt"/>
<line x1="673.0" y1="332" x2="673.0" y2="387" stroke="#2a2a2a" stroke-width="1" stroke-linecap="butt"/>
<line x1="601" y1="381.6" x2="694" y2="381.6" stroke="#2a2a2a" stroke-width="1" stroke-linecap="butt"/>
<line x1="601" y1="384.20000000000005" x2="694" y2="384.20000000000005" stroke="#2a2a2a" stroke-width="1" stroke-linecap="butt"/>
<text transform="translate(621.6 340.5) rotate(90)" font-size="7" font-weight="bold" font-style="italic" text-anchor="start" fill="#2a2a2a" >Local info</text>
<text transform="translate(614.8 347) rotate(90)" font-size="6.8" font-weight="bold" font-style="italic" text-anchor="start" fill="#2a2a2a" >5,63 m²</text>
<line x1="671.2" y1="296" x2="671.2" y2="332" stroke="#2a2a2a" stroke-width="0.8" stroke-linecap="butt"/>
<text transform="translate(670.5 307) rotate(90)" font-size="7" font-weight="normal" font-style="normal" text-anchor="start" fill="#262626" >1.50</text>
<line x1="673" y1="379.5" x2="717" y2="379.5" stroke="#2a2a2a" stroke-width="0.8" stroke-linecap="butt"/>
<line x1="694.5" y1="376" x2="694.5" y2="384" stroke="#2a2a2a" stroke-width="0.8" stroke-linecap="butt"/>
<text transform="translate(698.5 378.8) rotate(0)" font-size="7.6" font-weight="normal" font-style="normal" text-anchor="start" fill="#262626" >0.90</text>
<text transform="translate(597.5 389) rotate(90)" font-size="7" font-weight="normal" font-style="normal" text-anchor="start" fill="#262626" >0.50</text>
<line x1="596.5" y1="384" x2="596.5" y2="392" stroke="#2a2a2a" stroke-width="0.8" stroke-linecap="butt"/>
<line x1="733.4" y1="294" x2="733.4" y2="324" stroke="#2a2a2a" stroke-width="1" stroke-linecap="butt"/>
<line x1="736.0" y1="294" x2="736.0" y2="324" stroke="#2a2a2a" stroke-width="1" stroke-linecap="butt"/>
<rect x="735" y="312" width="68" height="11" fill="none" stroke="#2a2a2a" stroke-width="1" rx="0" />
<line x1="733" y1="322.4" x2="876" y2="322.4" stroke="#2a2a2a" stroke-width="1" stroke-linecap="butt"/>
<line x1="733" y1="324.59999999999997" x2="876" y2="324.59999999999997" stroke="#2a2a2a" stroke-width="1" stroke-linecap="butt"/>
<path d="M755 325 A20 20 0 0 1 735 345" fill="none" stroke="#2a2a2a" stroke-width="1" />
<line x1="734.4" y1="345" x2="734.4" y2="462" stroke="#2a2a2a" stroke-width="1" stroke-linecap="butt"/>
<line x1="736.8" y1="345" x2="736.8" y2="462" stroke="#2a2a2a" stroke-width="1" stroke-linecap="butt"/>
<text transform="translate(735.5 387) rotate(90)" font-size="6.2" font-weight="bold" font-style="italic" text-anchor="start" fill="#2a2a2a" >VTH</text>
<rect x="729.4" y="196.5" width="15.799999999999955" height="39.0" fill="none" stroke="#2a2a2a" stroke-width="1.1" rx="0" />
<rect x="745.2" y="217.2" width="31.200000000000045" height="18.30000000000001" fill="none" stroke="#2a2a2a" stroke-width="1.1" rx="0" />
<path d="M754.3000000000001 217.2 L754.3000000000001 210.2 L767.3000000000001 210.2 L767.3000000000001 217.2" fill="none" stroke="#2a2a2a" stroke-width="1.3" />
<line x1="754.3000000000001" y1="210.79999999999998" x2="767.3000000000001" y2="210.79999999999998" stroke="#333" stroke-width="2.4" stroke-linecap="butt"/>
<g transform="translate(738.2 208) rotate(0) scale(0.95)">
<rect x="-0.4" y="-5.7" width="5.4" height="11.4" fill="#d8d8d8" stroke="#2a2a2a" stroke-width="1.5" rx="0.8" />
<rect x="1.2" y="-3.6" width="2.2" height="7.2" fill="#666" stroke="#2a2a2a" stroke-width="0.4" rx="0" />
<path d="M-2.4 -7.2 L-5 0 L-2.4 7.2" fill="none" stroke="#2a2a2a" stroke-width="1.8" />
</g>
<g transform="translate(771.7 224.6) rotate(35) scale(0.8)">
<rect x="-2.8" y="-3.5" width="5.6" height="7" fill="#111" stroke="#2a2a2a" stroke-width="0.4" rx="0.6" />
</g>
<rect x="853" y="196.5" width="15.5" height="39.0" fill="none" stroke="#2a2a2a" stroke-width="1.1" rx="0" />
<rect x="822" y="217.2" width="31" height="18.30000000000001" fill="none" stroke="#2a2a2a" stroke-width="1.1" rx="0" />
<path d="M831.0 217.2 L831.0 210.2 L844.0 210.2 L844.0 217.2" fill="none" stroke="#2a2a2a" stroke-width="1.3" />
<line x1="831.0" y1="210.79999999999998" x2="844.0" y2="210.79999999999998" stroke="#333" stroke-width="2.4" stroke-linecap="butt"/>
<g transform="translate(858.2 207.8) rotate(180) scale(0.95)">
<rect x="-0.4" y="-5.7" width="5.4" height="11.4" fill="#d8d8d8" stroke="#2a2a2a" stroke-width="1.5" rx="0.8" />
<rect x="1.2" y="-3.6" width="2.2" height="7.2" fill="#666" stroke="#2a2a2a" stroke-width="0.4" rx="0" />
<path d="M-2.4 -7.2 L-5 0 L-2.4 7.2" fill="none" stroke="#2a2a2a" stroke-width="1.8" />
</g>
<g transform="translate(827 223.6) rotate(35) scale(0.8)">
<rect x="-2.8" y="-3.5" width="5.6" height="7" fill="#111" stroke="#2a2a2a" stroke-width="0.4" rx="0.6" />
</g>
<rect x="853" y="276" width="15.5" height="39" fill="none" stroke="#2a2a2a" stroke-width="1.1" rx="0" />
<rect x="822" y="276" width="31" height="19" fill="none" stroke="#2a2a2a" stroke-width="1.1" rx="0" />
<path d="M831.0 295 L831.0 302 L844.0 302 L844.0 295" fill="none" stroke="#2a2a2a" stroke-width="1.3" />
<line x1="831.0" y1="301.4" x2="844.0" y2="301.4" stroke="#333" stroke-width="2.4" stroke-linecap="butt"/>
<g transform="translate(858.2 302.8) rotate(180) scale(0.95)">
<rect x="-0.4" y="-5.7" width="5.4" height="11.4" fill="#d8d8d8" stroke="#2a2a2a" stroke-width="1.5" rx="0.8" />
<rect x="1.2" y="-3.6" width="2.2" height="7.2" fill="#666" stroke="#2a2a2a" stroke-width="0.4" rx="0" />
<path d="M-2.4 -7.2 L-5 0 L-2.4 7.2" fill="none" stroke="#2a2a2a" stroke-width="1.8" />
</g>
<g transform="translate(827.2 287.7) rotate(35) scale(0.8)">
<rect x="-2.8" y="-3.5" width="5.6" height="7" fill="#111" stroke="#2a2a2a" stroke-width="0.4" rx="0.6" />
</g>
<text transform="translate(815.8 244.7) rotate(90)" font-size="7" font-weight="bold" font-style="italic" text-anchor="start" fill="#2a2a2a" >Compta</text>
<text transform="translate(809 244.7) rotate(90)" font-size="6.8" font-weight="bold" font-style="italic" text-anchor="start" fill="#2a2a2a" >31,80 m²</text>
<line x1="735" y1="460.6" x2="876" y2="460.6" stroke="#2a2a2a" stroke-width="1" stroke-linecap="butt"/>
<line x1="735" y1="462.8" x2="876" y2="462.8" stroke="#2a2a2a" stroke-width="1" stroke-linecap="butt"/>
<rect x="813" y="335" width="15" height="38" fill="none" stroke="#2a2a2a" stroke-width="1.1" rx="0" />
<rect x="828" y="355" width="32" height="18" fill="none" stroke="#2a2a2a" stroke-width="1.1" rx="0" />
<path d="M837.5 355 L837.5 348 L850.5 348 L850.5 355" fill="none" stroke="#2a2a2a" stroke-width="1.3" />
<line x1="837.5" y1="348.6" x2="850.5" y2="348.6" stroke="#333" stroke-width="2.4" stroke-linecap="butt"/>
<g transform="translate(821.5 346.5) rotate(0) scale(0.95)">
<rect x="-0.4" y="-5.7" width="5.4" height="11.4" fill="#d8d8d8" stroke="#2a2a2a" stroke-width="1.5" rx="0.8" />
<rect x="1.2" y="-3.6" width="2.2" height="7.2" fill="#666" stroke="#2a2a2a" stroke-width="0.4" rx="0" />
<path d="M-2.4 -7.2 L-5 0 L-2.4 7.2" fill="none" stroke="#2a2a2a" stroke-width="1.8" />
</g>
<g transform="translate(855 362.5) rotate(35) scale(0.8)">
<rect x="-2.8" y="-3.5" width="5.6" height="7" fill="#111" stroke="#2a2a2a" stroke-width="0.4" rx="0.6" />
</g>
<rect x="790" y="413" width="16" height="38" fill="none" stroke="#2a2a2a" stroke-width="1.1" rx="0" />
<rect x="758" y="433" width="32" height="18" fill="none" stroke="#2a2a2a" stroke-width="1.1" rx="0" />
<path d="M767.5 433 L767.5 426 L780.5 426 L780.5 433" fill="none" stroke="#2a2a2a" stroke-width="1.3" />
<line x1="767.5" y1="426.6" x2="780.5" y2="426.6" stroke="#333" stroke-width="2.4" stroke-linecap="butt"/>
<g transform="translate(796.8 424.5) rotate(180) scale(0.95)">
<rect x="-0.4" y="-5.7" width="5.4" height="11.4" fill="#d8d8d8" stroke="#2a2a2a" stroke-width="1.5" rx="0.8" />
<rect x="1.2" y="-3.6" width="2.2" height="7.2" fill="#666" stroke="#2a2a2a" stroke-width="0.4" rx="0" />
<path d="M-2.4 -7.2 L-5 0 L-2.4 7.2" fill="none" stroke="#2a2a2a" stroke-width="1.8" />
</g>
<g transform="translate(763 440.5) rotate(35) scale(0.8)">
<rect x="-2.8" y="-3.5" width="5.6" height="7" fill="#111" stroke="#2a2a2a" stroke-width="0.4" rx="0.6" />
</g>
<rect x="813" y="413" width="16" height="38" fill="none" stroke="#2a2a2a" stroke-width="1.1" rx="0" />
<rect x="829" y="433" width="31" height="18" fill="none" stroke="#2a2a2a" stroke-width="1.1" rx="0" />
<path d="M838.0 433 L838.0 426 L851.0 426 L851.0 433" fill="none" stroke="#2a2a2a" stroke-width="1.3" />
<line x1="838.0" y1="426.6" x2="851.0" y2="426.6" stroke="#333" stroke-width="2.4" stroke-linecap="butt"/>
<g transform="translate(822 424.5) rotate(0) scale(0.95)">
<rect x="-0.4" y="-5.7" width="5.4" height="11.4" fill="#d8d8d8" stroke="#2a2a2a" stroke-width="1.5" rx="0.8" />
<rect x="1.2" y="-3.6" width="2.2" height="7.2" fill="#666" stroke="#2a2a2a" stroke-width="0.4" rx="0" />
<path d="M-2.4 -7.2 L-5 0 L-2.4 7.2" fill="none" stroke="#2a2a2a" stroke-width="1.8" />
</g>
<g transform="translate(856 440.5) rotate(35) scale(0.8)">
<rect x="-2.8" y="-3.5" width="5.6" height="7" fill="#111" stroke="#2a2a2a" stroke-width="0.4" rx="0.6" />
</g>
<text transform="translate(801.8 365.3) rotate(90)" font-size="7" font-weight="bold" font-style="italic" text-anchor="start" fill="#2a2a2a" >Sourcing</text>
<text transform="translate(791.6 371) rotate(90)" font-size="6.8" font-weight="bold" font-style="italic" text-anchor="start" fill="#2a2a2a" >27,92 m²</text>
<rect x="539" y="366.8" width="53" height="17.80000000000001" fill="none" stroke="#2a2a2a" stroke-width="1.1" rx="0" />
<g transform="translate(566.5 390.6) rotate(180) scale(1.1)">
<path d="M-7.6 3 Q-8.8 -8.6 0 -8.8 Q8.8 -8.6 7.6 3" fill="none" stroke="#2a2a2a" stroke-width="1.6" />
<ellipse cx="0" cy="0.3" rx="6.3" ry="6.6" fill="none" stroke="#2a2a2a" stroke-width="1.1"/>
<ellipse cx="-0.3" cy="-0.6" rx="3.1" ry="3.5" fill="#e2e2e2" stroke="#2a2a2a" stroke-width="1.1"/>
<path d="M-2 -3 L-1.5 2 M1 -2.5 L1.5 1.5" fill="none" stroke="#555" stroke-width="0.8" />
<path d="M-6 2.5 L-5 8.6 M5.6 2 L3.2 9.2" fill="none" stroke="#2a2a2a" stroke-width="1.3" />
<path d="M-7.2 -7.4 L-6.6 -4.4 M7.2 -7.4 L6.6 -4.4" fill="none" stroke="#2a2a2a" stroke-width="1.2" />
</g>
<g transform="translate(565.0 377.6) rotate(0) scale(0.95)">
<rect x="-5.8" y="-2.6" width="6.2" height="5.2" fill="#111" stroke="#2a2a2a" stroke-width="0.5" rx="0" />
<rect x="0.4" y="-2.6" width="5.4" height="5.2" fill="#8a8a8a" stroke="#2a2a2a" stroke-width="0.7" rx="0" />
<path d="M2 -2.6 L2 2.6 M3.8 -2.6 L3.8 2.6" fill="none" stroke="#333" stroke-width="0.6" />
</g>
<g transform="translate(553.5 377.6) rotate(55) scale(0.8)">
<rect x="-2.8" y="-3.5" width="5.6" height="7" fill="#111" stroke="#2a2a2a" stroke-width="0.4" rx="0.6" />
</g>
<rect x="645" y="412.7" width="51.5" height="18.30000000000001" fill="none" stroke="#2a2a2a" stroke-width="1.1" rx="0" />
<g transform="translate(671.75 406.7) rotate(0) scale(1.1)">
<path d="M-7.6 3 Q-8.8 -8.6 0 -8.8 Q8.8 -8.6 7.6 3" fill="none" stroke="#2a2a2a" stroke-width="1.6" />
<ellipse cx="0" cy="0.3" rx="6.3" ry="6.6" fill="none" stroke="#2a2a2a" stroke-width="1.1"/>
<ellipse cx="-0.3" cy="-0.6" rx="3.1" ry="3.5" fill="#e2e2e2" stroke="#2a2a2a" stroke-width="1.1"/>
<path d="M-2 -3 L-1.5 2 M1 -2.5 L1.5 1.5" fill="none" stroke="#555" stroke-width="0.8" />
<path d="M-6 2.5 L-5 8.6 M5.6 2 L3.2 9.2" fill="none" stroke="#2a2a2a" stroke-width="1.3" />
<path d="M-7.2 -7.4 L-6.6 -4.4 M7.2 -7.4 L6.6 -4.4" fill="none" stroke="#2a2a2a" stroke-width="1.2" />
</g>
<g transform="translate(670.25 419.9) rotate(0) scale(0.95)">
<rect x="-5.8" y="-2.6" width="6.2" height="5.2" fill="#111" stroke="#2a2a2a" stroke-width="0.5" rx="0" />
<rect x="0.4" y="-2.6" width="5.4" height="5.2" fill="#8a8a8a" stroke="#2a2a2a" stroke-width="0.7" rx="0" />
<path d="M2 -2.6 L2 2.6 M3.8 -2.6 L3.8 2.6" fill="none" stroke="#333" stroke-width="0.6" />
</g>
<g transform="translate(658.75 419.9) rotate(35) scale(0.8)">
<rect x="-2.8" y="-3.5" width="5.6" height="7" fill="#111" stroke="#2a2a2a" stroke-width="0.4" rx="0.6" />
</g>
<rect x="645" y="465" width="51.5" height="18" fill="none" stroke="#2a2a2a" stroke-width="1.1" rx="0" />
<g transform="translate(671.75 489) rotate(180) scale(1.1)">
<path d="M-7.6 3 Q-8.8 -8.6 0 -8.8 Q8.8 -8.6 7.6 3" fill="none" stroke="#2a2a2a" stroke-width="1.6" />
<ellipse cx="0" cy="0.3" rx="6.3" ry="6.6" fill="none" stroke="#2a2a2a" stroke-width="1.1"/>
<ellipse cx="-0.3" cy="-0.6" rx="3.1" ry="3.5" fill="#e2e2e2" stroke="#2a2a2a" stroke-width="1.1"/>
<path d="M-2 -3 L-1.5 2 M1 -2.5 L1.5 1.5" fill="none" stroke="#555" stroke-width="0.8" />
<path d="M-6 2.5 L-5 8.6 M5.6 2 L3.2 9.2" fill="none" stroke="#2a2a2a" stroke-width="1.3" />
<path d="M-7.2 -7.4 L-6.6 -4.4 M7.2 -7.4 L6.6 -4.4" fill="none" stroke="#2a2a2a" stroke-width="1.2" />
</g>
<g transform="translate(670.25 476) rotate(0) scale(0.95)">
<rect x="-5.8" y="-2.6" width="6.2" height="5.2" fill="#111" stroke="#2a2a2a" stroke-width="0.5" rx="0" />
<rect x="0.4" y="-2.6" width="5.4" height="5.2" fill="#8a8a8a" stroke="#2a2a2a" stroke-width="0.7" rx="0" />
<path d="M2 -2.6 L2 2.6 M3.8 -2.6 L3.8 2.6" fill="none" stroke="#333" stroke-width="0.6" />
</g>
<g transform="translate(658.75 476) rotate(55) scale(0.8)">
<rect x="-2.8" y="-3.5" width="5.6" height="7" fill="#111" stroke="#2a2a2a" stroke-width="0.4" rx="0.6" />
</g>
<rect x="645" y="529" width="51.5" height="18" fill="none" stroke="#2a2a2a" stroke-width="1.1" rx="0" />
<g transform="translate(671.75 523) rotate(0) scale(1.1)">
<path d="M-7.6 3 Q-8.8 -8.6 0 -8.8 Q8.8 -8.6 7.6 3" fill="none" stroke="#2a2a2a" stroke-width="1.6" />
<ellipse cx="0" cy="0.3" rx="6.3" ry="6.6" fill="none" stroke="#2a2a2a" stroke-width="1.1"/>
<ellipse cx="-0.3" cy="-0.6" rx="3.1" ry="3.5" fill="#e2e2e2" stroke="#2a2a2a" stroke-width="1.1"/>
<path d="M-2 -3 L-1.5 2 M1 -2.5 L1.5 1.5" fill="none" stroke="#555" stroke-width="0.8" />
<path d="M-6 2.5 L-5 8.6 M5.6 2 L3.2 9.2" fill="none" stroke="#2a2a2a" stroke-width="1.3" />
<path d="M-7.2 -7.4 L-6.6 -4.4 M7.2 -7.4 L6.6 -4.4" fill="none" stroke="#2a2a2a" stroke-width="1.2" />
</g>
<g transform="translate(670.25 536.2) rotate(0) scale(0.95)">
<rect x="-5.8" y="-2.6" width="6.2" height="5.2" fill="#111" stroke="#2a2a2a" stroke-width="0.5" rx="0" />
<rect x="0.4" y="-2.6" width="5.4" height="5.2" fill="#8a8a8a" stroke="#2a2a2a" stroke-width="0.7" rx="0" />
<path d="M2 -2.6 L2 2.6 M3.8 -2.6 L3.8 2.6" fill="none" stroke="#333" stroke-width="0.6" />
</g>
<g transform="translate(658.75 536.2) rotate(35) scale(0.8)">
<rect x="-2.8" y="-3.5" width="5.6" height="7" fill="#111" stroke="#2a2a2a" stroke-width="0.4" rx="0.6" />
</g>
<rect x="645" y="651" width="51.5" height="18" fill="none" stroke="#2a2a2a" stroke-width="1.1" rx="0" />
<g transform="translate(671.75 675) rotate(180) scale(1.1)">
<path d="M-7.6 3 Q-8.8 -8.6 0 -8.8 Q8.8 -8.6 7.6 3" fill="none" stroke="#2a2a2a" stroke-width="1.6" />
<ellipse cx="0" cy="0.3" rx="6.3" ry="6.6" fill="none" stroke="#2a2a2a" stroke-width="1.1"/>
<ellipse cx="-0.3" cy="-0.6" rx="3.1" ry="3.5" fill="#e2e2e2" stroke="#2a2a2a" stroke-width="1.1"/>
<path d="M-2 -3 L-1.5 2 M1 -2.5 L1.5 1.5" fill="none" stroke="#555" stroke-width="0.8" />
<path d="M-6 2.5 L-5 8.6 M5.6 2 L3.2 9.2" fill="none" stroke="#2a2a2a" stroke-width="1.3" />
<path d="M-7.2 -7.4 L-6.6 -4.4 M7.2 -7.4 L6.6 -4.4" fill="none" stroke="#2a2a2a" stroke-width="1.2" />
</g>
<g transform="translate(670.25 662) rotate(0) scale(0.95)">
<rect x="-5.8" y="-2.6" width="6.2" height="5.2" fill="#111" stroke="#2a2a2a" stroke-width="0.5" rx="0" />
<rect x="0.4" y="-2.6" width="5.4" height="5.2" fill="#8a8a8a" stroke="#2a2a2a" stroke-width="0.7" rx="0" />
<path d="M2 -2.6 L2 2.6 M3.8 -2.6 L3.8 2.6" fill="none" stroke="#333" stroke-width="0.6" />
</g>
<g transform="translate(658.75 662) rotate(55) scale(0.8)">
<rect x="-2.8" y="-3.5" width="5.6" height="7" fill="#111" stroke="#2a2a2a" stroke-width="0.4" rx="0.6" />
</g>
<rect x="645" y="715" width="51.5" height="18" fill="none" stroke="#2a2a2a" stroke-width="1.1" rx="0" />
<g transform="translate(671.75 709) rotate(0) scale(1.1)">
<path d="M-7.6 3 Q-8.8 -8.6 0 -8.8 Q8.8 -8.6 7.6 3" fill="none" stroke="#2a2a2a" stroke-width="1.6" />
<ellipse cx="0" cy="0.3" rx="6.3" ry="6.6" fill="none" stroke="#2a2a2a" stroke-width="1.1"/>
<ellipse cx="-0.3" cy="-0.6" rx="3.1" ry="3.5" fill="#e2e2e2" stroke="#2a2a2a" stroke-width="1.1"/>
<path d="M-2 -3 L-1.5 2 M1 -2.5 L1.5 1.5" fill="none" stroke="#555" stroke-width="0.8" />
<path d="M-6 2.5 L-5 8.6 M5.6 2 L3.2 9.2" fill="none" stroke="#2a2a2a" stroke-width="1.3" />
<path d="M-7.2 -7.4 L-6.6 -4.4 M7.2 -7.4 L6.6 -4.4" fill="none" stroke="#2a2a2a" stroke-width="1.2" />
</g>
<g transform="translate(670.25 722.2) rotate(0) scale(0.95)">
<rect x="-5.8" y="-2.6" width="6.2" height="5.2" fill="#111" stroke="#2a2a2a" stroke-width="0.5" rx="0" />
<rect x="0.4" y="-2.6" width="5.4" height="5.2" fill="#8a8a8a" stroke="#2a2a2a" stroke-width="0.7" rx="0" />
<path d="M2 -2.6 L2 2.6 M3.8 -2.6 L3.8 2.6" fill="none" stroke="#333" stroke-width="0.6" />
</g>
<g transform="translate(658.75 722.2) rotate(35) scale(0.8)">
<rect x="-2.8" y="-3.5" width="5.6" height="7" fill="#111" stroke="#2a2a2a" stroke-width="0.4" rx="0.6" />
</g>
<rect x="668" y="796" width="52" height="19" fill="none" stroke="#2a2a2a" stroke-width="1.1" rx="0" />
<g transform="translate(695.0 821) rotate(180) scale(1.1)">
<path d="M-7.6 3 Q-8.8 -8.6 0 -8.8 Q8.8 -8.6 7.6 3" fill="none" stroke="#2a2a2a" stroke-width="1.6" />
<ellipse cx="0" cy="0.3" rx="6.3" ry="6.6" fill="none" stroke="#2a2a2a" stroke-width="1.1"/>
<ellipse cx="-0.3" cy="-0.6" rx="3.1" ry="3.5" fill="#e2e2e2" stroke="#2a2a2a" stroke-width="1.1"/>
<path d="M-2 -3 L-1.5 2 M1 -2.5 L1.5 1.5" fill="none" stroke="#555" stroke-width="0.8" />
<path d="M-6 2.5 L-5 8.6 M5.6 2 L3.2 9.2" fill="none" stroke="#2a2a2a" stroke-width="1.3" />
<path d="M-7.2 -7.4 L-6.6 -4.4 M7.2 -7.4 L6.6 -4.4" fill="none" stroke="#2a2a2a" stroke-width="1.2" />
</g>
<g transform="translate(693.5 808) rotate(0) scale(0.95)">
<rect x="-5.8" y="-2.6" width="6.2" height="5.2" fill="#111" stroke="#2a2a2a" stroke-width="0.5" rx="0" />
<rect x="0.4" y="-2.6" width="5.4" height="5.2" fill="#8a8a8a" stroke="#2a2a2a" stroke-width="0.7" rx="0" />
<path d="M2 -2.6 L2 2.6 M3.8 -2.6 L3.8 2.6" fill="none" stroke="#333" stroke-width="0.6" />
</g>
<g transform="translate(682.0 808) rotate(55) scale(0.8)">
<rect x="-2.8" y="-3.5" width="5.6" height="7" fill="#111" stroke="#2a2a2a" stroke-width="0.4" rx="0.6" />
</g>
<g transform="translate(583 453) rotate(56)">
<rect x="-25" y="-9" width="50" height="18" fill="none" stroke="#2a2a2a" stroke-width="1.1" rx="0" />
<g transform="translate(-0.5 2.2) rotate(0) scale(0.95)">
<rect x="-5.8" y="-2.6" width="6.2" height="5.2" fill="#111" stroke="#2a2a2a" stroke-width="0.5" rx="0" />
<rect x="0.4" y="-2.6" width="5.4" height="5.2" fill="#8a8a8a" stroke="#2a2a2a" stroke-width="0.7" rx="0" />
<path d="M2 -2.6 L2 2.6 M3.8 -2.6 L3.8 2.6" fill="none" stroke="#333" stroke-width="0.6" />
</g>
<g transform="translate(-12 2.2) rotate(35) scale(0.8)">
<rect x="-2.8" y="-3.5" width="5.6" height="7" fill="#111" stroke="#2a2a2a" stroke-width="0.4" rx="0.6" />
</g>
</g>
<g transform="translate(570.5644364116744 461.3878935520612) rotate(236) scale(1.1)">
<path d="M-7.6 3 Q-8.8 -8.6 0 -8.8 Q8.8 -8.6 7.6 3" fill="none" stroke="#2a2a2a" stroke-width="1.6" />
<ellipse cx="0" cy="0.3" rx="6.3" ry="6.6" fill="none" stroke="#2a2a2a" stroke-width="1.1"/>
<ellipse cx="-0.3" cy="-0.6" rx="3.1" ry="3.5" fill="#e2e2e2" stroke="#2a2a2a" stroke-width="1.1"/>
<path d="M-2 -3 L-1.5 2 M1 -2.5 L1.5 1.5" fill="none" stroke="#555" stroke-width="0.8" />
<path d="M-6 2.5 L-5 8.6 M5.6 2 L3.2 9.2" fill="none" stroke="#2a2a2a" stroke-width="1.3" />
<path d="M-7.2 -7.4 L-6.6 -4.4 M7.2 -7.4 L6.6 -4.4" fill="none" stroke="#2a2a2a" stroke-width="1.2" />
</g>
<g transform="translate(583 537) rotate(-56)">
<rect x="-25" y="-9" width="50" height="18" fill="none" stroke="#2a2a2a" stroke-width="1.1" rx="0" />
<g transform="translate(-0.5 -2.2) rotate(0) scale(0.95)">
<rect x="-5.8" y="-2.6" width="6.2" height="5.2" fill="#111" stroke="#2a2a2a" stroke-width="0.5" rx="0" />
<rect x="0.4" y="-2.6" width="5.4" height="5.2" fill="#8a8a8a" stroke="#2a2a2a" stroke-width="0.7" rx="0" />
<path d="M2 -2.6 L2 2.6 M3.8 -2.6 L3.8 2.6" fill="none" stroke="#333" stroke-width="0.6" />
</g>
<g transform="translate(-12 -2.2) rotate(35) scale(0.8)">
<rect x="-2.8" y="-3.5" width="5.6" height="7" fill="#111" stroke="#2a2a2a" stroke-width="0.4" rx="0.6" />
</g>
</g>
<g transform="translate(570.5644364116744 528.6121064479388) rotate(-56) scale(1.1)">
<path d="M-7.6 3 Q-8.8 -8.6 0 -8.8 Q8.8 -8.6 7.6 3" fill="none" stroke="#2a2a2a" stroke-width="1.6" />
<ellipse cx="0" cy="0.3" rx="6.3" ry="6.6" fill="none" stroke="#2a2a2a" stroke-width="1.1"/>
<ellipse cx="-0.3" cy="-0.6" rx="3.1" ry="3.5" fill="#e2e2e2" stroke="#2a2a2a" stroke-width="1.1"/>
<path d="M-2 -3 L-1.5 2 M1 -2.5 L1.5 1.5" fill="none" stroke="#555" stroke-width="0.8" />
<path d="M-6 2.5 L-5 8.6 M5.6 2 L3.2 9.2" fill="none" stroke="#2a2a2a" stroke-width="1.3" />
<path d="M-7.2 -7.4 L-6.6 -4.4 M7.2 -7.4 L6.6 -4.4" fill="none" stroke="#2a2a2a" stroke-width="1.2" />
</g>
<g transform="translate(583 620) rotate(56)">
<rect x="-25" y="-9" width="50" height="18" fill="none" stroke="#2a2a2a" stroke-width="1.1" rx="0" />
<g transform="translate(-0.5 2.2) rotate(0) scale(0.95)">
<rect x="-5.8" y="-2.6" width="6.2" height="5.2" fill="#111" stroke="#2a2a2a" stroke-width="0.5" rx="0" />
<rect x="0.4" y="-2.6" width="5.4" height="5.2" fill="#8a8a8a" stroke="#2a2a2a" stroke-width="0.7" rx="0" />
<path d="M2 -2.6 L2 2.6 M3.8 -2.6 L3.8 2.6" fill="none" stroke="#333" stroke-width="0.6" />
</g>
<g transform="translate(-12 2.2) rotate(35) scale(0.8)">
<rect x="-2.8" y="-3.5" width="5.6" height="7" fill="#111" stroke="#2a2a2a" stroke-width="0.4" rx="0.6" />
</g>
</g>
<g transform="translate(570.5644364116744 628.3878935520612) rotate(236) scale(1.1)">
<path d="M-7.6 3 Q-8.8 -8.6 0 -8.8 Q8.8 -8.6 7.6 3" fill="none" stroke="#2a2a2a" stroke-width="1.6" />
<ellipse cx="0" cy="0.3" rx="6.3" ry="6.6" fill="none" stroke="#2a2a2a" stroke-width="1.1"/>
<ellipse cx="-0.3" cy="-0.6" rx="3.1" ry="3.5" fill="#e2e2e2" stroke="#2a2a2a" stroke-width="1.1"/>
<path d="M-2 -3 L-1.5 2 M1 -2.5 L1.5 1.5" fill="none" stroke="#555" stroke-width="0.8" />
<path d="M-6 2.5 L-5 8.6 M5.6 2 L3.2 9.2" fill="none" stroke="#2a2a2a" stroke-width="1.3" />
<path d="M-7.2 -7.4 L-6.6 -4.4 M7.2 -7.4 L6.6 -4.4" fill="none" stroke="#2a2a2a" stroke-width="1.2" />
</g>
<g transform="translate(583 704) rotate(-56)">
<rect x="-25" y="-9" width="50" height="18" fill="none" stroke="#2a2a2a" stroke-width="1.1" rx="0" />
<g transform="translate(-0.5 -2.2) rotate(0) scale(0.95)">
<rect x="-5.8" y="-2.6" width="6.2" height="5.2" fill="#111" stroke="#2a2a2a" stroke-width="0.5" rx="0" />
<rect x="0.4" y="-2.6" width="5.4" height="5.2" fill="#8a8a8a" stroke="#2a2a2a" stroke-width="0.7" rx="0" />
<path d="M2 -2.6 L2 2.6 M3.8 -2.6 L3.8 2.6" fill="none" stroke="#333" stroke-width="0.6" />
</g>
<g transform="translate(-12 -2.2) rotate(35) scale(0.8)">
<rect x="-2.8" y="-3.5" width="5.6" height="7" fill="#111" stroke="#2a2a2a" stroke-width="0.4" rx="0.6" />
</g>
</g>
<g transform="translate(570.5644364116744 695.6121064479388) rotate(-56) scale(1.1)">
<path d="M-7.6 3 Q-8.8 -8.6 0 -8.8 Q8.8 -8.6 7.6 3" fill="none" stroke="#2a2a2a" stroke-width="1.6" />
<ellipse cx="0" cy="0.3" rx="6.3" ry="6.6" fill="none" stroke="#2a2a2a" stroke-width="1.1"/>
<ellipse cx="-0.3" cy="-0.6" rx="3.1" ry="3.5" fill="#e2e2e2" stroke="#2a2a2a" stroke-width="1.1"/>
<path d="M-2 -3 L-1.5 2 M1 -2.5 L1.5 1.5" fill="none" stroke="#555" stroke-width="0.8" />
<path d="M-6 2.5 L-5 8.6 M5.6 2 L3.2 9.2" fill="none" stroke="#2a2a2a" stroke-width="1.3" />
<path d="M-7.2 -7.4 L-6.6 -4.4 M7.2 -7.4 L6.6 -4.4" fill="none" stroke="#2a2a2a" stroke-width="1.2" />
</g>
<g transform="translate(584 789) rotate(56)">
<rect x="-25" y="-9" width="50" height="18" fill="none" stroke="#2a2a2a" stroke-width="1.1" rx="0" />
<g transform="translate(-0.5 2.2) rotate(0) scale(0.95)">
<rect x="-5.8" y="-2.6" width="6.2" height="5.2" fill="#111" stroke="#2a2a2a" stroke-width="0.5" rx="0" />
<rect x="0.4" y="-2.6" width="5.4" height="5.2" fill="#8a8a8a" stroke="#2a2a2a" stroke-width="0.7" rx="0" />
<path d="M2 -2.6 L2 2.6 M3.8 -2.6 L3.8 2.6" fill="none" stroke="#333" stroke-width="0.6" />
</g>
<g transform="translate(-12 2.2) rotate(35) scale(0.8)">
<rect x="-2.8" y="-3.5" width="5.6" height="7" fill="#111" stroke="#2a2a2a" stroke-width="0.4" rx="0.6" />
</g>
</g>
<g transform="translate(571.5644364116744 797.3878935520612) rotate(236) scale(1.1)">
<path d="M-7.6 3 Q-8.8 -8.6 0 -8.8 Q8.8 -8.6 7.6 3" fill="none" stroke="#2a2a2a" stroke-width="1.6" />
<ellipse cx="0" cy="0.3" rx="6.3" ry="6.6" fill="none" stroke="#2a2a2a" stroke-width="1.1"/>
<ellipse cx="-0.3" cy="-0.6" rx="3.1" ry="3.5" fill="#e2e2e2" stroke="#2a2a2a" stroke-width="1.1"/>
<path d="M-2 -3 L-1.5 2 M1 -2.5 L1.5 1.5" fill="none" stroke="#555" stroke-width="0.8" />
<path d="M-6 2.5 L-5 8.6 M5.6 2 L3.2 9.2" fill="none" stroke="#2a2a2a" stroke-width="1.3" />
<path d="M-7.2 -7.4 L-6.6 -4.4 M7.2 -7.4 L6.6 -4.4" fill="none" stroke="#2a2a2a" stroke-width="1.2" />
</g>
<text transform="translate(675.8 561.6) rotate(90)" font-size="7.2" font-weight="bold" font-style="italic" text-anchor="start" fill="#2a2a2a" >OPEN SPACE</text>
<text transform="translate(667 567) rotate(90)" font-size="7.2" font-weight="bold" font-style="italic" text-anchor="start" fill="#2a2a2a" >ADV</text>
<text transform="translate(657.2 567) rotate(90)" font-size="7" font-weight="bold" font-style="italic" text-anchor="start" fill="#2a2a2a" >125,4 m²</text>
<path d="M757 463 A22 22 0 0 1 735 487" fill="none" stroke="#2a2a2a" stroke-width="1" />
<line x1="734.4" y1="487" x2="734.4" y2="538" stroke="#2a2a2a" stroke-width="1" stroke-linecap="butt"/>
<line x1="736.8" y1="487" x2="736.8" y2="538" stroke="#2a2a2a" stroke-width="1" stroke-linecap="butt"/>
<text transform="translate(737.5 502) rotate(90)" font-size="6.2" font-weight="bold" font-style="italic" text-anchor="start" fill="#2a2a2a" >VTH</text>
<rect x="792" y="480" width="19" height="52" fill="none" stroke="#2a2a2a" stroke-width="1.1" rx="0" />
<g transform="translate(817.8 504) rotate(90) scale(1.1)">
<path d="M-7.6 3 Q-8.8 -8.6 0 -8.8 Q8.8 -8.6 7.6 3" fill="none" stroke="#2a2a2a" stroke-width="1.6" />
<ellipse cx="0" cy="0.3" rx="6.3" ry="6.6" fill="none" stroke="#2a2a2a" stroke-width="1.1"/>
<ellipse cx="-0.3" cy="-0.6" rx="3.1" ry="3.5" fill="#e2e2e2" stroke="#2a2a2a" stroke-width="1.1"/>
<path d="M-2 -3 L-1.5 2 M1 -2.5 L1.5 1.5" fill="none" stroke="#555" stroke-width="0.8" />
<path d="M-6 2.5 L-5 8.6 M5.6 2 L3.2 9.2" fill="none" stroke="#2a2a2a" stroke-width="1.3" />
<path d="M-7.2 -7.4 L-6.6 -4.4 M7.2 -7.4 L6.6 -4.4" fill="none" stroke="#2a2a2a" stroke-width="1.2" />
</g>
<g transform="translate(804.8 505) rotate(90) scale(0.95)">
<rect x="-5.8" y="-2.6" width="6.2" height="5.2" fill="#111" stroke="#2a2a2a" stroke-width="0.5" rx="0" />
<rect x="0.4" y="-2.6" width="5.4" height="5.2" fill="#8a8a8a" stroke="#2a2a2a" stroke-width="0.7" rx="0" />
<path d="M2 -2.6 L2 2.6 M3.8 -2.6 L3.8 2.6" fill="none" stroke="#333" stroke-width="0.6" />
</g>
<g transform="translate(804.8 516.5) rotate(55) scale(0.8)">
<rect x="-2.8" y="-3.5" width="5.6" height="7" fill="#111" stroke="#2a2a2a" stroke-width="0.4" rx="0.6" />
</g>
<text transform="translate(850.5 495) rotate(90)" font-size="6.6" font-weight="bold" font-style="italic" text-anchor="start" fill="#2a2a2a" >MARKETING</text>
<text transform="translate(843 505) rotate(90)" font-size="6.2" font-weight="bold" font-style="italic" text-anchor="start" fill="#2a2a2a" >22,32 m²</text>
<line x1="735" y1="534" x2="836" y2="534" stroke="#2a2a2a" stroke-width="0.9" stroke-linecap="butt"/>
<text transform="translate(777 533.4) rotate(0)" font-size="7.4" font-weight="normal" font-style="normal" text-anchor="start" fill="#262626" >3.83</text>
<text transform="translate(716.6 539) rotate(0)" font-size="7.4" font-weight="normal" font-style="normal" text-anchor="start" fill="#262626" >0.66</text>
<line x1="717" y1="539" x2="836" y2="539" stroke="#2a2a2a" stroke-width="1" stroke-linecap="butt"/>
<line x1="717" y1="541.2" x2="836" y2="541.2" stroke="#2a2a2a" stroke-width="1" stroke-linecap="butt"/>
<line x1="717" y1="578.4" x2="880" y2="578.4" stroke="#2a2a2a" stroke-width="1" stroke-linecap="butt"/>
<line x1="717" y1="580.8" x2="880" y2="580.8" stroke="#2a2a2a" stroke-width="1" stroke-linecap="butt"/>
<line x1="717.5" y1="539" x2="717.5" y2="580" stroke="#2a2a2a" stroke-width="1" stroke-linecap="butt"/>
<rect x="723.9" y="549.5" width="23.600000000000023" height="27.5" fill="none" stroke="#2a2a2a" stroke-width="1.1" rx="0" />
<line x1="723.9" y1="549.5" x2="747.5" y2="577" stroke="#2a2a2a" stroke-width="1" stroke-linecap="butt"/>
<line x1="747.5" y1="549.5" x2="723.9" y2="577" stroke="#2a2a2a" stroke-width="1" stroke-linecap="butt"/>
<text transform="translate(734.3 549) rotate(0)" font-size="7.4" font-weight="bold" font-style="italic" text-anchor="middle" fill="#2a2a2a" >Skydome</text>
<line x1="721" y1="560.5" x2="832.6" y2="560.5" stroke="#2a2a2a" stroke-width="0.9" stroke-linecap="butt"/>
<path d="M721 560.5 L726 557.8 M721 560.5 L726 563.2" fill="none" stroke="#2a2a2a" stroke-width="0.9" />
<line x1="754.7" y1="545" x2="754.7" y2="577" stroke="#2a2a2a" stroke-width="0.9" stroke-linecap="butt"/>
<line x1="761.9" y1="545" x2="761.9" y2="577" stroke="#2a2a2a" stroke-width="0.9" stroke-linecap="butt"/>
<line x1="769.2" y1="545" x2="769.2" y2="577" stroke="#2a2a2a" stroke-width="0.9" stroke-linecap="butt"/>
<line x1="776.4" y1="545" x2="776.4" y2="577" stroke="#2a2a2a" stroke-width="0.9" stroke-linecap="butt"/>
<line x1="783.6" y1="545" x2="783.6" y2="577" stroke="#2a2a2a" stroke-width="0.9" stroke-linecap="butt"/>
<line x1="790.8" y1="545" x2="790.8" y2="577" stroke="#2a2a2a" stroke-width="0.9" stroke-linecap="butt"/>
<line x1="798.0" y1="545" x2="798.0" y2="577" stroke="#2a2a2a" stroke-width="0.9" stroke-linecap="butt"/>
<line x1="805.3" y1="545" x2="805.3" y2="577" stroke="#2a2a2a" stroke-width="0.9" stroke-linecap="butt"/>
<line x1="812.5" y1="545" x2="812.5" y2="577" stroke="#2a2a2a" stroke-width="0.9" stroke-linecap="butt"/>
<line x1="819.7" y1="545" x2="819.7" y2="577" stroke="#2a2a2a" stroke-width="0.9" stroke-linecap="butt"/>
<line x1="826.9" y1="545" x2="826.9" y2="577" stroke="#2a2a2a" stroke-width="0.9" stroke-linecap="butt"/>
<line x1="834.1" y1="545" x2="834.1" y2="577" stroke="#2a2a2a" stroke-width="0.9" stroke-linecap="butt"/>
<line x1="750" y1="545" x2="833" y2="545" stroke="#2a2a2a" stroke-width="0.8" stroke-linecap="butt"/>
<line x1="833" y1="539" x2="833" y2="580" stroke="#2a2a2a" stroke-width="1" stroke-linecap="butt"/>
<line x1="835.6" y1="539" x2="835.6" y2="580" stroke="#2a2a2a" stroke-width="1" stroke-linecap="butt"/>
<line x1="842.5" y1="539" x2="842.5" y2="580" stroke="#2a2a2a" stroke-width="0.8" stroke-linecap="butt"/>
<path d="M840 539 L845 539 M840 580 L845 580" fill="none" stroke="#2a2a2a" stroke-width="0.8" />
<text transform="translate(842.8 552.8) rotate(90)" font-size="7.6" font-weight="normal" font-style="normal" text-anchor="start" fill="#262626" >1.62</text>
<line x1="708.5" y1="542" x2="708.5" y2="580" stroke="#2a2a2a" stroke-width="0.8" stroke-linecap="butt"/>
<path d="M706 542 L711 542 M706 580 L711 580" fill="none" stroke="#2a2a2a" stroke-width="0.8" />
<text transform="translate(709.2 552.8) rotate(90)" font-size="7.6" font-weight="normal" font-style="normal" text-anchor="start" fill="#262626" >1.50</text>
<line x1="717" y1="591" x2="877" y2="591" stroke="#2a2a2a" stroke-width="0.8" stroke-linecap="butt"/>
<path d="M717.5 588 L717.5 594 M877 588 L877 594" fill="none" stroke="#2a2a2a" stroke-width="0.8" />
<text transform="translate(774 590.2) rotate(0)" font-size="7.6" font-weight="normal" font-style="normal" text-anchor="start" fill="#262626" >5.00</text>
<line x1="734.6" y1="580" x2="734.6" y2="657" stroke="#2a2a2a" stroke-width="1" stroke-linecap="butt"/>
<line x1="737.0" y1="580" x2="737.0" y2="657" stroke="#2a2a2a" stroke-width="1" stroke-linecap="butt"/>
<path d="M737 657 A20 20 0 0 1 757 677" fill="none" stroke="#2a2a2a" stroke-width="1" />
<line x1="737" y1="677" x2="757" y2="677" stroke="#2a2a2a" stroke-width="1" stroke-linecap="butt"/>
<line x1="735.4" y1="677" x2="735.4" y2="751" stroke="#2a2a2a" stroke-width="1" stroke-linecap="butt"/>
<line x1="737.8" y1="677" x2="737.8" y2="751" stroke="#2a2a2a" stroke-width="1" stroke-linecap="butt"/>
<line x1="735.8" y1="774" x2="735.8" y2="850" stroke="#2a2a2a" stroke-width="1" stroke-linecap="butt"/>
<line x1="738.1999999999999" y1="774" x2="738.1999999999999" y2="850" stroke="#2a2a2a" stroke-width="1" stroke-linecap="butt"/>
<text transform="translate(737.5 625) rotate(90)" font-size="6.2" font-weight="bold" font-style="italic" text-anchor="start" fill="#2a2a2a" >VTH</text>
<text transform="translate(737.5 712) rotate(90)" font-size="6.2" font-weight="bold" font-style="italic" text-anchor="start" fill="#2a2a2a" >VTH</text>
<text transform="translate(762 617) rotate(90)" font-size="6.2" font-weight="bold" font-style="italic" text-anchor="start" fill="#2a2a2a" >VTH</text>
<rect x="773" y="590" width="18" height="51" fill="none" stroke="#2a2a2a" stroke-width="1.1" rx="0" />
<g transform="translate(797.8 614) rotate(90) scale(1.1)">
<path d="M-7.6 3 Q-8.8 -8.6 0 -8.8 Q8.8 -8.6 7.6 3" fill="none" stroke="#2a2a2a" stroke-width="1.6" />
<ellipse cx="0" cy="0.3" rx="6.3" ry="6.6" fill="none" stroke="#2a2a2a" stroke-width="1.1"/>
<ellipse cx="-0.3" cy="-0.6" rx="3.1" ry="3.5" fill="#e2e2e2" stroke="#2a2a2a" stroke-width="1.1"/>
<path d="M-2 -3 L-1.5 2 M1 -2.5 L1.5 1.5" fill="none" stroke="#555" stroke-width="0.8" />
<path d="M-6 2.5 L-5 8.6 M5.6 2 L3.2 9.2" fill="none" stroke="#2a2a2a" stroke-width="1.3" />
<path d="M-7.2 -7.4 L-6.6 -4.4 M7.2 -7.4 L6.6 -4.4" fill="none" stroke="#2a2a2a" stroke-width="1.2" />
</g>
<g transform="translate(784.8 615) rotate(90) scale(0.95)">
<rect x="-5.8" y="-2.6" width="6.2" height="5.2" fill="#111" stroke="#2a2a2a" stroke-width="0.5" rx="0" />
<rect x="0.4" y="-2.6" width="5.4" height="5.2" fill="#8a8a8a" stroke="#2a2a2a" stroke-width="0.7" rx="0" />
<path d="M2 -2.6 L2 2.6 M3.8 -2.6 L3.8 2.6" fill="none" stroke="#333" stroke-width="0.6" />
</g>
<g transform="translate(784.8 626.5) rotate(55) scale(0.8)">
<rect x="-2.8" y="-3.5" width="5.6" height="7" fill="#111" stroke="#2a2a2a" stroke-width="0.4" rx="0.6" />
</g>
<rect x="836" y="590" width="18" height="51" fill="none" stroke="#2a2a2a" stroke-width="1.1" rx="0" />
<g transform="translate(860.8 614) rotate(90) scale(1.1)">
<path d="M-7.6 3 Q-8.8 -8.6 0 -8.8 Q8.8 -8.6 7.6 3" fill="none" stroke="#2a2a2a" stroke-width="1.6" />
<ellipse cx="0" cy="0.3" rx="6.3" ry="6.6" fill="none" stroke="#2a2a2a" stroke-width="1.1"/>
<ellipse cx="-0.3" cy="-0.6" rx="3.1" ry="3.5" fill="#e2e2e2" stroke="#2a2a2a" stroke-width="1.1"/>
<path d="M-2 -3 L-1.5 2 M1 -2.5 L1.5 1.5" fill="none" stroke="#555" stroke-width="0.8" />
<path d="M-6 2.5 L-5 8.6 M5.6 2 L3.2 9.2" fill="none" stroke="#2a2a2a" stroke-width="1.3" />
<path d="M-7.2 -7.4 L-6.6 -4.4 M7.2 -7.4 L6.6 -4.4" fill="none" stroke="#2a2a2a" stroke-width="1.2" />
</g>
<g transform="translate(847.8 615) rotate(90) scale(0.95)">
<rect x="-5.8" y="-2.6" width="6.2" height="5.2" fill="#111" stroke="#2a2a2a" stroke-width="0.5" rx="0" />
<rect x="0.4" y="-2.6" width="5.4" height="5.2" fill="#8a8a8a" stroke="#2a2a2a" stroke-width="0.7" rx="0" />
<path d="M2 -2.6 L2 2.6 M3.8 -2.6 L3.8 2.6" fill="none" stroke="#333" stroke-width="0.6" />
</g>
<g transform="translate(847.8 626.5) rotate(55) scale(0.8)">
<rect x="-2.8" y="-3.5" width="5.6" height="7" fill="#111" stroke="#2a2a2a" stroke-width="0.4" rx="0.6" />
</g>
<rect x="773" y="692" width="18" height="51" fill="none" stroke="#2a2a2a" stroke-width="1.1" rx="0" />
<g transform="translate(797.8 716) rotate(90) scale(1.1)">
<path d="M-7.6 3 Q-8.8 -8.6 0 -8.8 Q8.8 -8.6 7.6 3" fill="none" stroke="#2a2a2a" stroke-width="1.6" />
<ellipse cx="0" cy="0.3" rx="6.3" ry="6.6" fill="none" stroke="#2a2a2a" stroke-width="1.1"/>
<ellipse cx="-0.3" cy="-0.6" rx="3.1" ry="3.5" fill="#e2e2e2" stroke="#2a2a2a" stroke-width="1.1"/>
<path d="M-2 -3 L-1.5 2 M1 -2.5 L1.5 1.5" fill="none" stroke="#555" stroke-width="0.8" />
<path d="M-6 2.5 L-5 8.6 M5.6 2 L3.2 9.2" fill="none" stroke="#2a2a2a" stroke-width="1.3" />
<path d="M-7.2 -7.4 L-6.6 -4.4 M7.2 -7.4 L6.6 -4.4" fill="none" stroke="#2a2a2a" stroke-width="1.2" />
</g>
<g transform="translate(784.8 717) rotate(90) scale(0.95)">
<rect x="-5.8" y="-2.6" width="6.2" height="5.2" fill="#111" stroke="#2a2a2a" stroke-width="0.5" rx="0" />
<rect x="0.4" y="-2.6" width="5.4" height="5.2" fill="#8a8a8a" stroke="#2a2a2a" stroke-width="0.7" rx="0" />
<path d="M2 -2.6 L2 2.6 M3.8 -2.6 L3.8 2.6" fill="none" stroke="#333" stroke-width="0.6" />
</g>
<g transform="translate(784.8 728.5) rotate(55) scale(0.8)">
<rect x="-2.8" y="-3.5" width="5.6" height="7" fill="#111" stroke="#2a2a2a" stroke-width="0.4" rx="0.6" />
</g>
<rect x="836" y="692" width="18" height="51" fill="none" stroke="#2a2a2a" stroke-width="1.1" rx="0" />
<g transform="translate(860.8 716) rotate(90) scale(1.1)">
<path d="M-7.6 3 Q-8.8 -8.6 0 -8.8 Q8.8 -8.6 7.6 3" fill="none" stroke="#2a2a2a" stroke-width="1.6" />
<ellipse cx="0" cy="0.3" rx="6.3" ry="6.6" fill="none" stroke="#2a2a2a" stroke-width="1.1"/>
<ellipse cx="-0.3" cy="-0.6" rx="3.1" ry="3.5" fill="#e2e2e2" stroke="#2a2a2a" stroke-width="1.1"/>
<path d="M-2 -3 L-1.5 2 M1 -2.5 L1.5 1.5" fill="none" stroke="#555" stroke-width="0.8" />
<path d="M-6 2.5 L-5 8.6 M5.6 2 L3.2 9.2" fill="none" stroke="#2a2a2a" stroke-width="1.3" />
<path d="M-7.2 -7.4 L-6.6 -4.4 M7.2 -7.4 L6.6 -4.4" fill="none" stroke="#2a2a2a" stroke-width="1.2" />
</g>
<g transform="translate(847.8 717) rotate(90) scale(0.95)">
<rect x="-5.8" y="-2.6" width="6.2" height="5.2" fill="#111" stroke="#2a2a2a" stroke-width="0.5" rx="0" />
<rect x="0.4" y="-2.6" width="5.4" height="5.2" fill="#8a8a8a" stroke="#2a2a2a" stroke-width="0.7" rx="0" />
<path d="M2 -2.6 L2 2.6 M3.8 -2.6 L3.8 2.6" fill="none" stroke="#333" stroke-width="0.6" />
</g>
<g transform="translate(847.8 728.5) rotate(55) scale(0.8)">
<rect x="-2.8" y="-3.5" width="5.6" height="7" fill="#111" stroke="#2a2a2a" stroke-width="0.4" rx="0.6" />
</g>
<text transform="translate(830.5 642) rotate(90)" font-size="6.6" font-weight="bold" font-style="italic" text-anchor="start" fill="#2a2a2a" >COMMERCIAL</text>
<text transform="translate(822 648) rotate(90)" font-size="6.2" font-weight="bold" font-style="italic" text-anchor="start" fill="#2a2a2a" >36,18 m²</text>
<line x1="736" y1="750.3" x2="879" y2="750.3" stroke="#2a2a2a" stroke-width="1" stroke-linecap="butt"/>
<line x1="736" y1="752.9" x2="879" y2="752.9" stroke="#2a2a2a" stroke-width="1" stroke-linecap="butt"/>
<path d="M758.4 753 A21 21 0 0 1 737.4 774" fill="none" stroke="#2a2a2a" stroke-width="1" />
<line x1="869.2" y1="812" x2="869.2" y2="850" stroke="#2a2a2a" stroke-width="0.8" stroke-linecap="butt"/>
<text transform="translate(779.4 760.7) rotate(90)" font-size="6.8" font-weight="bold" font-style="italic" text-anchor="start" fill="#2a2a2a" >DIRECTION</text>
<text transform="translate(767 764.4) rotate(90)" font-size="6.8" font-weight="bold" font-style="italic" text-anchor="start" fill="#2a2a2a" >21,04 m²</text>
<text transform="translate(739.4 804.8) rotate(90)" font-size="6.4" font-weight="bold" font-style="italic" text-anchor="start" fill="#2a2a2a" >VTH</text>
<g transform="translate(812 786) rotate(-90) scale(0.85)">
<path d="M-6 6 L-6 -2 Q-6 -8 0 -8 Q6 -8 6 -2 L6 6 Z" fill="none" stroke="#2a2a2a" stroke-width="1.1" />
<path d="M-7.6 -0.5 Q-7.8 -10 0 -10 Q7.8 -10 7.6 -0.5" fill="none" stroke="#2a2a2a" stroke-width="2.1" />
</g>
<g transform="translate(812 815.6) rotate(-90) scale(0.85)">
<path d="M-6 6 L-6 -2 Q-6 -8 0 -8 Q6 -8 6 -2 L6 6 Z" fill="none" stroke="#2a2a2a" stroke-width="1.1" />
<path d="M-7.6 -0.5 Q-7.8 -10 0 -10 Q7.8 -10 7.6 -0.5" fill="none" stroke="#2a2a2a" stroke-width="2.1" />
</g>
<rect x="827" y="774" width="18" height="53" fill="none" stroke="#2a2a2a" stroke-width="1.1" rx="0" />
<g transform="translate(851.8 798) rotate(90) scale(1.1)">
<path d="M-7.6 3 Q-8.8 -8.6 0 -8.8 Q8.8 -8.6 7.6 3" fill="none" stroke="#2a2a2a" stroke-width="1.6" />
<ellipse cx="0" cy="0.3" rx="6.3" ry="6.6" fill="none" stroke="#2a2a2a" stroke-width="1.1"/>
<ellipse cx="-0.3" cy="-0.6" rx="3.1" ry="3.5" fill="#e2e2e2" stroke="#2a2a2a" stroke-width="1.1"/>
<path d="M-2 -3 L-1.5 2 M1 -2.5 L1.5 1.5" fill="none" stroke="#555" stroke-width="0.8" />
<path d="M-6 2.5 L-5 8.6 M5.6 2 L3.2 9.2" fill="none" stroke="#2a2a2a" stroke-width="1.3" />
<path d="M-7.2 -7.4 L-6.6 -4.4 M7.2 -7.4 L6.6 -4.4" fill="none" stroke="#2a2a2a" stroke-width="1.2" />
</g>
<g transform="translate(838.8 799) rotate(90) scale(0.95)">
<rect x="-5.8" y="-2.6" width="6.2" height="5.2" fill="#111" stroke="#2a2a2a" stroke-width="0.5" rx="0" />
<rect x="0.4" y="-2.6" width="5.4" height="5.2" fill="#8a8a8a" stroke="#2a2a2a" stroke-width="0.7" rx="0" />
<path d="M2 -2.6 L2 2.6 M3.8 -2.6 L3.8 2.6" fill="none" stroke="#333" stroke-width="0.6" />
</g>
<g transform="translate(838.8 810.5) rotate(55) scale(0.8)">
<rect x="-2.8" y="-3.5" width="5.6" height="7" fill="#111" stroke="#2a2a2a" stroke-width="0.4" rx="0.6" />
</g>
<text transform="translate(232 950.6) rotate(0)" font-size="51.4" font-weight="bold" font-style="normal" text-anchor="start" fill="#111" >RDC</text>
<text transform="translate(618.8 951.2) rotate(0)" font-size="50.8" font-weight="bold" font-style="normal" text-anchor="start" fill="#111" textLength="89" lengthAdjust="spacingAndGlyphs">R+1</text>
<text transform="translate(835.5 868) rotate(102)" font-size="11.8" font-weight="normal" font-style="normal" text-anchor="start" fill="#454545" textLength="101" lengthAdjust="spacingAndGlyphs">soussigné pour demande</text>
<text transform="translate(823.5 864) rotate(102)" font-size="11.8" font-weight="normal" font-style="normal" text-anchor="start" fill="#777" textLength="83" lengthAdjust="spacingAndGlyphs">à un acte reçu par</text>
<text transform="translate(830.5 926) rotate(102)" font-size="11.8" font-weight="normal" font-style="normal" text-anchor="start" fill="#3a3a3a" textLength="42" lengthAdjust="spacingAndGlyphs">Signé par</text>
<text transform="translate(797 940) rotate(102)" font-size="10" font-weight="normal" font-style="normal" text-anchor="start" fill="#bbb" >le notaire</text>
<path d="M781 930 C800 931 820 934 836 940 C850 946 862 952 873 959" fill="none" stroke="#333" stroke-width="1.3" />
</g>
</svg>
</body></html>
